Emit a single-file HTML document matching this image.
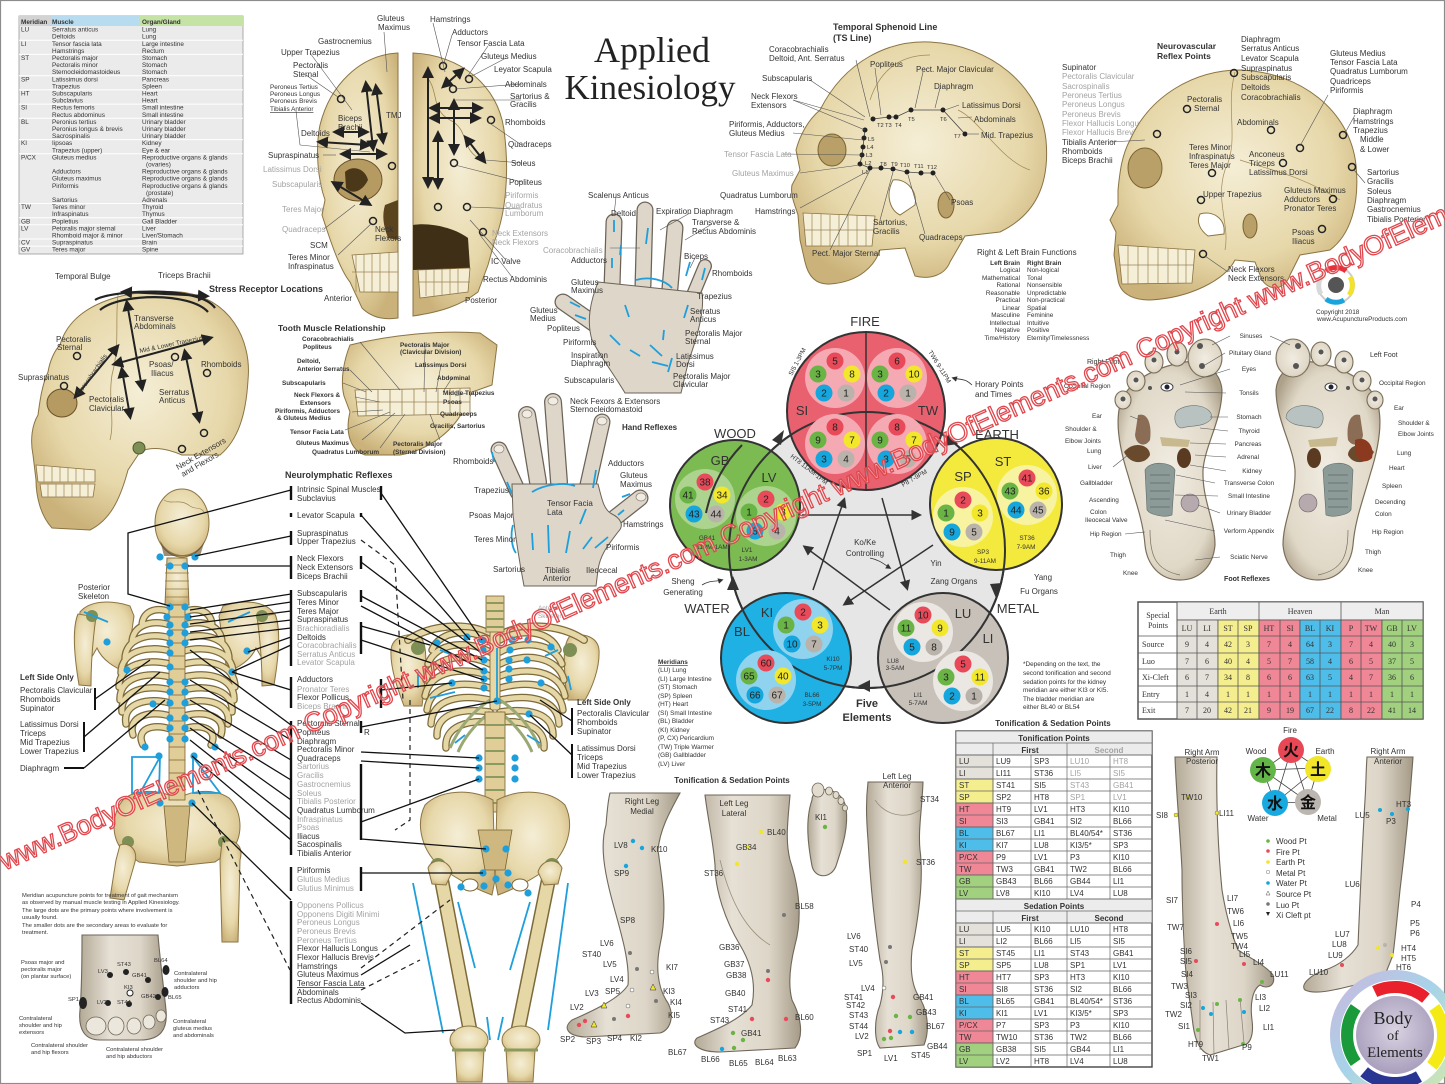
<!DOCTYPE html>
<html><head><meta charset="utf-8"><style>
html,body{margin:0;padding:0;background:#fff;}
svg{display:block;font-family:"Liberation Sans","Noto Sans CJK SC",sans-serif;}
text{fill:#333;font-size:8px;}
.s{font-size:6.4px}
.xs{font-size:5.8px}
.b{font-weight:bold}
.g{fill:#a3a3a3}
.sf{font-family:"Liberation Serif",serif}
.bone{fill:url(#bone);stroke:#8b7443;stroke-width:1}
.skin{fill:url(#skin);stroke:#6f6759;stroke-width:1.1}
.ld{stroke:#555;stroke-width:0.6;fill:none}
.bl{stroke:#111;stroke-width:1.3;fill:none}
.om{fill:none;stroke:#222;stroke-width:1.5}
.ar{stroke:#222;stroke-width:2;fill:none;marker-end:url(#ah);marker-start:url(#ahs)}
.bu{stroke:#1e9fdc;stroke-width:1.8;fill:none}
.c{text-anchor:middle}
.e{text-anchor:end}
.n{font-size:10px;text-anchor:middle;fill:#222}
.el{font-size:13px;fill:#333}
</style></head><body>
<svg width="1445" height="1084" viewBox="0 0 1445 1084" xmlns="http://www.w3.org/2000/svg">
<defs>
<radialGradient id="bone" cx="50%" cy="42%" r="62%"><stop offset="0" stop-color="#f5eed6"/><stop offset="0.65" stop-color="#e7d8aa"/><stop offset="1" stop-color="#cbb27a"/></radialGradient>
<linearGradient id="skin" x1="0" x2="1" y1="0" y2="0"><stop offset="0" stop-color="#b3a996"/><stop offset="0.35" stop-color="#e6e0d5"/><stop offset="0.7" stop-color="#ddd6c8"/><stop offset="1" stop-color="#a59a87"/></linearGradient>
<radialGradient id="foot" cx="50%" cy="50%" r="60%"><stop offset="0" stop-color="#f1ece2"/><stop offset="0.75" stop-color="#e0d8c7"/><stop offset="1" stop-color="#ada18a"/></radialGradient>
<linearGradient id="logo" x1="0" y1="0" x2="1" y2="1"><stop offset="0" stop-color="#cdb6dc"/><stop offset="0.45" stop-color="#a7d3ea"/><stop offset="1" stop-color="#d6eaa6"/></linearGradient>
<radialGradient id="logoc" cx="50%" cy="45%" r="55%"><stop offset="0" stop-color="#d9d3e2"/><stop offset="1" stop-color="#a99fbd"/></radialGradient>
<marker id="ah" markerWidth="6" markerHeight="6" refX="4" refY="3" orient="auto"><path d="M0,0 L6,3 L0,6 Z" fill="#222"/></marker>
<marker id="ahs" markerWidth="6" markerHeight="6" refX="2" refY="3" orient="auto"><path d="M6,0 L0,3 L6,6 Z" fill="#222"/></marker>
<marker id="ae" markerWidth="7" markerHeight="7" refX="5" refY="3.5" orient="auto"><path d="M0,0 L7,3.5 L0,7 Z" fill="#333"/></marker>
<g id="ribsP">
<path d="M170,612 C155,606 142,612 142,626 M170,625 C152,619 132,625 132,643 M170,638 C150,632 125,638 125,659 M170,651 C148,645 121,651 121,673 M170,664 C147,658 119,664 119,687 M170,677 C147,671 119,677 120,700 M170,690 C147,684 120,690 122,712 M170,703 C148,697 122,703 126,724 M170,716 C150,710 127,716 133,735 M170,729 C153,723 135,729 143,745"/>
</g>
<g id="ribsA">
<path d="M490,640 C470,628 440,630 432,650 M490,652 C468,640 436,642 428,664 M490,664 C466,652 432,656 426,680 M490,676 C464,666 430,670 425,696 M490,688 C462,680 430,684 427,710 M490,700 C462,694 432,698 431,724 M490,712 C464,708 436,712 437,736 M490,722 C468,720 444,726 446,748"/>
</g>
</defs>
<rect x="0.5" y="0.5" width="1444" height="1083" fill="#fff" stroke="#8c8c8c" stroke-width="1.2"/>

<!-- ========== TOP-LEFT TABLE ========== -->
<rect x="19" y="16" width="224" height="238" fill="#ebebeb" stroke="#9a9a9a" stroke-width="0.8"/>
<rect x="19" y="16" width="32" height="10" fill="#d3d3d3"/>
<rect x="51" y="16" width="89" height="10" fill="#b7dcef"/>
<rect x="140" y="16" width="103" height="10" fill="#c6e3a6"/>
<g stroke="#fff" stroke-width="1">
<line x1="19" x2="243" y1="40.2" y2="40.2"/><line x1="19" x2="243" y1="54.4" y2="54.4"/><line x1="19" x2="243" y1="75.7" y2="75.7"/><line x1="19" x2="243" y1="89.9" y2="89.9"/><line x1="19" x2="243" y1="104.1" y2="104.1"/><line x1="19" x2="243" y1="118.3" y2="118.3"/><line x1="19" x2="243" y1="139.6" y2="139.6"/><line x1="19" x2="243" y1="153.8" y2="153.8"/><line x1="19" x2="243" y1="203.5" y2="203.5"/><line x1="19" x2="243" y1="217.7" y2="217.7"/><line x1="19" x2="243" y1="224.8" y2="224.8"/><line x1="19" x2="243" y1="239" y2="239"/><line x1="19" x2="243" y1="246.1" y2="246.1"/>
</g>
<g class="s" style="font-size:6.4px">
<text x="21" y="24" class="b s">Meridian</text><text x="52" y="24" class="b s">Muscle</text><text x="142" y="24" class="b s">Organ/Gland</text>
<text x="21" y="31.6" class="s">LU</text><text x="52" y="31.6" class="s">Serratus anticus</text><text x="142" y="31.6" class="s">Lung</text>
<text x="52" y="38.7" class="s">Deltoids</text><text x="142" y="38.7" class="s">Lung</text>
<text x="21" y="45.8" class="s">LI</text><text x="52" y="45.8" class="s">Tensor fascia lata</text><text x="142" y="45.8" class="s">Large intestine</text>
<text x="52" y="52.9" class="s">Hamstrings</text><text x="142" y="52.9" class="s">Rectum</text>
<text x="21" y="60" class="s">ST</text><text x="52" y="60" class="s">Pectoralis major</text><text x="142" y="60" class="s">Stomach</text>
<text x="52" y="67.1" class="s">Pectoralis minor</text><text x="142" y="67.1" class="s">Stomach</text>
<text x="52" y="74.2" class="s">Sternocleidomastoideus</text><text x="142" y="74.2" class="s">Stomach</text>
<text x="21" y="81.3" class="s">SP</text><text x="52" y="81.3" class="s">Latissimus dorsi</text><text x="142" y="81.3" class="s">Pancreas</text>
<text x="52" y="88.4" class="s">Trapezius</text><text x="142" y="88.4" class="s">Spleen</text>
<text x="21" y="95.5" class="s">HT</text><text x="52" y="95.5" class="s">Subscapularis</text><text x="142" y="95.5" class="s">Heart</text>
<text x="52" y="102.6" class="s">Subclavius</text><text x="142" y="102.6" class="s">Heart</text>
<text x="21" y="109.7" class="s">SI</text><text x="52" y="109.7" class="s">Rectus femoris</text><text x="142" y="109.7" class="s">Small intestine</text>
<text x="52" y="116.8" class="s">Rectus abdominus</text><text x="142" y="116.8" class="s">Small intestine</text>
<text x="21" y="123.9" class="s">BL</text><text x="52" y="123.9" class="s">Peronius tertius</text><text x="142" y="123.9" class="s">Urinary bladder</text>
<text x="52" y="131" class="s">Peronius longus &amp; brevis</text><text x="142" y="131" class="s">Urinary bladder</text>
<text x="52" y="138.1" class="s">Sacrospinalis</text><text x="142" y="138.1" class="s">Urinary bladder</text>
<text x="21" y="145.2" class="s">KI</text><text x="52" y="145.2" class="s">Iipsoas</text><text x="142" y="145.2" class="s">Kidney</text>
<text x="52" y="152.3" class="s">Trapezius (upper)</text><text x="142" y="152.3" class="s">Eye &amp; ear</text>
<text x="21" y="159.4" class="s">P/CX</text><text x="52" y="159.4" class="s">Gluteus medius</text><text x="142" y="159.4" class="s">Reproductive organs &amp; glands</text>
<text x="146" y="166.5" class="s">(ovaries)</text>
<text x="52" y="173.6" class="s">Adductors</text><text x="142" y="173.6" class="s">Reproductive organs &amp; glands</text>
<text x="52" y="180.7" class="s">Gluteus maximus</text><text x="142" y="180.7" class="s">Reproductive organs &amp; glands</text>
<text x="52" y="187.8" class="s">Piriformis</text><text x="142" y="187.8" class="s">Reproductive organs &amp; glands</text>
<text x="146" y="194.9" class="s">(prostate)</text>
<text x="52" y="202" class="s">Sartorius</text><text x="142" y="202" class="s">Adrenals</text>
<text x="21" y="209.1" class="s">TW</text><text x="52" y="209.1" class="s">Teres minor</text><text x="142" y="209.1" class="s">Thyroid</text>
<text x="52" y="216.2" class="s">Infraspinatus</text><text x="142" y="216.2" class="s">Thymus</text>
<text x="21" y="223.3" class="s">GB</text><text x="52" y="223.3" class="s">Popletius</text><text x="142" y="223.3" class="s">Gall Bladder</text>
<text x="21" y="230.4" class="s">LV</text><text x="52" y="230.4" class="s">Petoralis major sternal</text><text x="142" y="230.4" class="s">Liver</text>
<text x="52" y="237.5" class="s">Rhomboid major &amp; minor</text><text x="142" y="237.5" class="s">Liver/Stomach</text>
<text x="21" y="244.6" class="s">CV</text><text x="52" y="244.6" class="s">Supraspinatus</text><text x="142" y="244.6" class="s">Brain</text>
<text x="21" y="251.7" class="s">GV</text><text x="52" y="251.7" class="s">Teres major</text><text x="142" y="251.7" class="s">Spine</text>
</g>

<!-- ========== ANTERIOR / POSTERIOR SKULL ========== -->
<path class="bone" d="M398,53 C360,55 330,85 320,125 C315,150 318,180 325,200 L322,215 C330,240 340,270 350,282 L362,308 C372,318 385,320 398,318 Z"/>
<path class="bone" d="M413,53 C460,55 498,85 504,130 C510,175 505,215 495,240 L488,265 L478,292 C460,306 440,312 413,316 Z"/>
<ellipse cx="358" cy="180" rx="24" ry="21" fill="#b59a62" stroke="#6b5226"/>
<path d="M345,172 C352,165 365,168 368,180 C362,192 352,195 346,188 Z" fill="#4a3818"/>
<path d="M385,205 L398,200 L398,240 L388,238 C383,225 382,215 385,205 Z" fill="#5a4420"/>
<path d="M352,255 L398,252 L398,292 L360,292 Z" fill="#f6efd8" stroke="#8b7443" stroke-width="0.8"/>
<path d="M356,255 v37 M364,254 v38 M372,253 v39 M380,253 v39 M389,252 v40 M352,272 h46" stroke="#9a8452" stroke-width="0.7"/>
<path d="M413,225 C430,222 455,228 468,238 L470,268 L413,270 Z" fill="#3e2f16"/>
<path d="M418,270 L470,268 L468,292 L420,298 Z" fill="#f4ecd3" stroke="#8b7443" stroke-width="0.8"/>
<path d="M426,270 v26 M434,269 v27 M442,269 v26 M450,269 v25 M458,269 v24 M418,282 h52" stroke="#9a8452" stroke-width="0.7"/>
<path d="M425,75 C440,90 430,110 450,120 C470,130 460,150 482,160" stroke="#9d8650" stroke-width="0.8" fill="none"/>
<g class="ar">
<line x1="366" y1="84" x2="373" y2="148"/><line x1="376" y1="87" x2="383" y2="141"/><line x1="336" y1="132" x2="366" y2="132"/><line x1="320" y1="142" x2="368" y2="145"/><line x1="343" y1="154" x2="384" y2="154"/><line x1="334" y1="183" x2="369" y2="204"/>
<line x1="432" y1="108" x2="480" y2="108"/><line x1="432" y1="118" x2="478" y2="118"/><line x1="428" y1="70" x2="428" y2="185"/><line x1="454" y1="102" x2="454" y2="152"/><line x1="438" y1="134" x2="438" y2="186"/><line x1="444" y1="86" x2="462" y2="70"/><line x1="466" y1="138" x2="484" y2="161"/>
</g>
<g class="om"><circle cx="341" cy="99" r="3.5"/><circle cx="392" cy="166" r="3.5"/><circle cx="373" cy="221" r="3.5"/><circle cx="443" cy="66" r="3.5"/><circle cx="469" cy="79" r="3.5"/><circle cx="453" cy="89" r="3.5"/><circle cx="491" cy="120" r="3.5"/><circle cx="454" cy="163" r="3.5"/><circle cx="438" cy="207" r="3.5"/><circle cx="467" cy="207" r="3.5"/><circle cx="483" cy="232" r="3.5"/></g>
<g class="ld"><line x1="384" y1="32" x2="387" y2="72"/><line x1="433" y1="23" x2="445" y2="72"/><line x1="452" y1="35" x2="444" y2="63"/><line x1="488" y1="46" x2="465" y2="80"/><line x1="506" y1="58" x2="470" y2="77"/><line x1="522" y1="84" x2="455" y2="89"/><line x1="521" y1="100" x2="455" y2="100"/><line x1="520" y1="144" x2="488" y2="122"/><line x1="522" y1="163" x2="485" y2="160"/><line x1="522" y1="182" x2="455" y2="165"/><line x1="521" y1="209" x2="470" y2="207"/><line x1="505" y1="259" x2="470" y2="220"/><line x1="512" y1="277" x2="480" y2="235"/><line x1="310" y1="53" x2="352" y2="110"/><line x1="306" y1="75" x2="338" y2="97"/><line x1="296" y1="111" x2="300" y2="145"/><line x1="300" y1="145" x2="370" y2="152"/><line x1="323" y1="155" x2="336" y2="155"/><line x1="324" y1="229" x2="355" y2="205"/><line x1="338" y1="255" x2="372" y2="223"/></g>
<text x="377" y="21">Gluteus</text><text x="378" y="30">Maximus</text>
<text x="430" y="22">Hamstrings</text><text x="452" y="35">Adductors</text><text x="457" y="46">Tensor Fascia Lata</text><text x="481" y="59">Gluteus Medius</text>
<text x="494" y="72">Leyator Scapula</text><text x="505" y="87">Abdominals</text><text x="510" y="99">Sartorius &amp;</text><text x="510" y="107">Gracilis</text>
<text x="505" y="125">Rhomboids</text><text x="508" y="147">Quadraceps</text><text x="511" y="166">Soleus</text><text x="509" y="185">Popliteus</text>
<text x="505" y="198" class="g">Piriformis</text><text x="505" y="208" class="g">Quadratus</text><text x="505" y="216" class="g">Lumborum</text>
<text x="492" y="236" class="g">Neck Extensors</text><text x="492" y="245" class="g">Neck Flexors</text><text x="491" y="264">IC Valve</text><text x="483" y="282">Rectus Abdominis</text>
<text x="465" y="303">Posterior</text><text x="324" y="301">Anterior</text>
<text x="318" y="44">Gastrocnemius</text><text x="281" y="55">Upper Trapezius</text><text x="293" y="68">Pectoralis</text><text x="293" y="77">Sternal</text>
<text x="270" y="89" class="s">Peroneus Tertius</text><text x="270" y="96" class="s">Peroneus Longus</text><text x="270" y="103" class="s">Peroneus Brevis</text><text x="270" y="111" class="s" text-decoration="underline">Tibialis Anterior</text>
<text x="338" y="121">Biceps</text><text x="338" y="130">Brachii</text><text x="386" y="118">TMJ</text><text x="301" y="136">Deltoids</text>
<text x="268" y="158">Supraspinatus</text><text x="263" y="172" class="g">Latissimus Dorsi</text><text x="272" y="187" class="g">Subscapularis</text>
<text x="282" y="212" class="g">Teres Major</text><text x="282" y="232" class="g">Quadraceps</text><text x="310" y="248">SCM</text>
<text x="288" y="260">Teres Minor</text><text x="288" y="269">Infraspinatus</text><text x="375" y="232">Neck</text><text x="375" y="241">Flexors</text>

<!-- Tooth muscle relationship -->
<path class="bone" d="M350,345 C390,335 440,330 480,333 L497,345 L492,385 L472,392 L466,405 C455,430 430,450 400,455 L365,455 C350,450 345,432 350,412 L344,396 C340,380 344,360 350,345 Z"/>
<path d="M355,390 L470,388 L470,414 L358,416 Z" fill="#f6efd8" stroke="#8b7443" stroke-width="0.8"/>
<path d="M366,389 v27 M378,389 v27 M390,389 v27 M402,389 v26 M414,389 v26 M426,389 v26 M438,389 v26 M450,388 v26 M460,388 v26 M356,402 h114" stroke="#9a8452" stroke-width="0.8"/>
<g class="ld"><line x1="360" y1="342" x2="400" y2="390"/><line x1="350" y1="370" x2="372" y2="392"/><line x1="343" y1="383" x2="366" y2="392"/><line x1="355" y1="397" x2="380" y2="402"/><line x1="352" y1="412" x2="383" y2="410"/><line x1="345" y1="430" x2="390" y2="412"/><line x1="362" y1="440" x2="395" y2="413"/><line x1="380" y1="448" x2="405" y2="414"/><line x1="425" y1="346" x2="424" y2="392"/><line x1="441" y1="365" x2="436" y2="392"/><line x1="452" y1="378" x2="443" y2="392"/><line x1="467" y1="393" x2="455" y2="396"/><line x1="440" y1="440" x2="430" y2="414"/></g>
<g class="b" style="font-size:6.4px">
<text x="278" y="331" class="b" style="font-size:8.5px">Tooth Muscle Relationship</text>
<text x="302" y="341" class="s b">Coracobrachialis</text><text x="303" y="349" class="s b">Popliteus</text>
<text x="297" y="363" class="s b">Deltoid,</text><text x="297" y="371" class="s b">Anterior Serratus</text>
<text x="282" y="385" class="s b">Subscapularis</text><text x="294" y="397" class="s b">Neck Flexors &amp;</text><text x="300" y="405" class="s b">Extensors</text>
<text x="275" y="413" class="s b">Piriformis, Adductors</text><text x="277" y="420" class="s b">&amp; Gluteus Medius</text>
<text x="290" y="434" class="s b">Tensor Facia Lata</text><text x="296" y="445" class="s b">Gluteus Maximus</text><text x="312" y="454" class="s b">Quadratus Lumborum</text>
<text x="400" y="347" class="s b">Pectoralis Major</text><text x="400" y="354" class="s b">(Clavicular Division)</text>
<text x="415" y="367" class="s b">Latissimus Dorsi</text><text x="437" y="380" class="s b">Abdominal</text><text x="443" y="395" class="s b">Middle Trapezius</text>
<text x="443" y="404" class="s b">Psoas</text><text x="440" y="416" class="s b">Quadraceps</text><text x="430" y="428" class="s b">Gracilis, Sartorius</text>
<text x="393" y="446" class="s b">Pectoralis Major</text><text x="393" y="454" class="s b">(Sternal Division)</text>
</g>

<!-- ========== STRESS RECEPTOR SKULL ========== -->
<path class="bone" d="M60,345 C72,302 130,288 180,292 C230,297 252,340 248,380 C246,415 238,440 220,455 L182,455 C166,448 150,446 140,452 L128,470 C120,500 110,520 90,530 L52,528 C40,515 36,495 36,480 L33,455 C30,440 32,425 38,415 C40,400 42,385 48,372 C50,360 55,350 60,345 Z"/>
<ellipse cx="62" cy="403" rx="15" ry="14" fill="#b59a62" stroke="#6b5226"/>
<path d="M36,465 L95,470 L95,482 L38,482 Z" fill="#f6efd8" stroke="#8b7443" stroke-width="0.8"/>
<path d="M44,466 v16 M52,467 v15 M60,467 v15 M68,468 v14 M76,468 v14 M84,469 v13" stroke="#9a8452" stroke-width="0.7"/>
<path d="M40,484 L95,484 L93,497 L42,497 Z" fill="#f6efd8" stroke="#8b7443" stroke-width="0.8"/>
<path d="M48,484 v13 M56,484 v13 M64,484 v13 M72,484 v13 M80,484 v13 M88,484 v13" stroke="#9a8452" stroke-width="0.7"/>
<circle cx="139" cy="448" r="6" fill="#7d8f55" stroke="#4c5a2a"/>
<path d="M118,295 C115,320 120,345 112,375 C108,400 115,420 110,440" stroke="#a18a55" stroke-width="0.8" fill="none"/>
<path d="M95,300 C110,290 200,285 215,308" stroke="#222" stroke-width="2.2" fill="none"/>
<path d="M100,310 C120,293 190,292 208,312" stroke="#222" stroke-width="2.2" fill="none"/>
<g class="ar"><line x1="127" y1="303" x2="142" y2="388"/><line x1="117" y1="347" x2="76" y2="396"/><line x1="115" y1="364" x2="210" y2="338"/><line x1="122" y1="370" x2="130" y2="416"/><line x1="185" y1="352" x2="199" y2="420"/><line x1="124" y1="292" x2="206" y2="296"/></g>
<g class="om"><circle cx="77" cy="356" r="3.5"/><circle cx="64" cy="386" r="3.5"/><circle cx="175" cy="357" r="3.5"/><circle cx="207" cy="373" r="3.5"/><circle cx="204" cy="433" r="3.5"/><circle cx="182" cy="449" r="3.5"/></g>
<text x="55" y="279">Temporal Bulge</text><text x="158" y="278">Triceps Brachii</text>
<text x="209" y="292" class="b" style="font-size:9px">Stress Receptor Locations</text>
<text x="134" y="321">Transverse</text><text x="134" y="329">Abdominals</text>
<text x="56" y="342">Pectoralis</text><text x="57" y="350">Sternal</text>
<text x="140" y="353" transform="rotate(-12 140 353)" class="s">Mid &amp; Lower Trapezius</text>
<text x="149" y="367">Psoas/</text><text x="151" y="376">Iliacus</text><text x="201" y="367">Rhomboids</text>
<text x="18" y="380">Supraspinatus</text><text x="80" y="395" class="s" transform="rotate(-55 80 395)">Coracobrachialis</text>
<text x="89" y="402">Pectoralis</text><text x="89" y="411">Clavicular</text><text x="159" y="395">Serratus</text><text x="159" y="403">Anticus</text>
<text x="178" y="470" transform="rotate(-30 178 470)">Neck Extensors</text><text x="183" y="477" transform="rotate(-30 183 477)">and Flexors</text>

<!-- ========== TITLE ========== -->
<text x="652" y="62" class="sf c" style="font-size:36px;fill:#222">Applied</text>
<text x="650" y="99" class="sf c" style="font-size:35px;fill:#222">Kinesiology</text>

<!-- ========== PALM HAND ========== -->
<g>
<g stroke-linecap="round">
<line x1="612" y1="287" x2="614" y2="222" stroke="#6b6357" stroke-width="17"/><line x1="643" y1="285" x2="645" y2="210" stroke="#6b6357" stroke-width="17"/><line x1="670" y1="288" x2="675" y2="228" stroke="#6b6357" stroke-width="17"/><line x1="690" y1="302" x2="705" y2="266" stroke="#6b6357" stroke-width="14"/><line x1="606" y1="332" x2="563" y2="302" stroke="#6b6357" stroke-width="17"/>
<line x1="612" y1="287" x2="614" y2="222" stroke="#ddd6c9" stroke-width="14.5"/><line x1="643" y1="285" x2="645" y2="210" stroke="#ddd6c9" stroke-width="14.5"/><line x1="670" y1="288" x2="675" y2="228" stroke="#ddd6c9" stroke-width="14.5"/><line x1="690" y1="302" x2="705" y2="266" stroke="#ddd6c9" stroke-width="11.5"/><line x1="606" y1="332" x2="563" y2="302" stroke="#ddd6c9" stroke-width="14.5"/>
</g>
<path d="M598,282 L702,293 C705,312 696,340 689,360 C685,375 683,385 681,393 L625,393 C615,376 600,356 592,340 C586,320 591,300 598,282 Z" fill="#ddd6c9" stroke="#6b6357"/>
<path d="M601,289 L700,298" stroke="#ddd6c9" stroke-width="6"/>
<g class="bu"><line x1="614" y1="220" x2="614" y2="232"/><line x1="621" y1="245" x2="620" y2="255"/><line x1="648" y1="228" x2="646" y2="244"/><line x1="612" y1="258" x2="612" y2="268"/><line x1="690" y1="262" x2="686" y2="276"/><line x1="705" y1="268" x2="702" y2="280"/><path d="M636,280 C650,276 665,280 672,288"/><line x1="570" y1="302" x2="580" y2="307"/><line x1="575" y1="315" x2="586" y2="319"/><line x1="625" y1="305" x2="629" y2="317"/><line x1="610" y1="335" x2="620" y2="345"/><line x1="630" y1="350" x2="640" y2="356"/><line x1="650" y1="345" x2="662" y2="356"/><line x1="688" y1="305" x2="684" y2="318"/><line x1="664" y1="330" x2="663" y2="340"/><line x1="672" y1="358" x2="668" y2="372"/><line x1="652" y1="362" x2="668" y2="366"/></g>
</g>
<g class="ld"><line x1="616" y1="197" x2="614" y2="215"/><line x1="690" y1="213" x2="660" y2="230"/><line x1="712" y1="224" x2="685" y2="240"/><line x1="610" y1="248" x2="640" y2="248"/><line x1="695" y1="258" x2="690" y2="268"/></g>
<text x="588" y="198">Scalenus Anticus</text><text x="611" y="216">Deltoid</text><text x="656" y="214">Expiration Diaphragm</text>
<text x="692" y="225">Transverse &amp;</text><text x="692" y="234">Rectus Abdominis</text>
<text x="543" y="253" class="g">Coracobrachialis</text><text x="571" y="263">Adductors</text><text x="684" y="259">Biceps</text><text x="712" y="276">Rhomboids</text>
<text x="571" y="285">Gluteus</text><text x="571" y="293">Maximus</text><text x="697" y="299">Trapezius</text>
<text x="530" y="313">Gluteus</text><text x="530" y="321">Medius</text><text x="690" y="314">Serratus</text><text x="690" y="322">Anticus</text>
<text x="547" y="331">Popliteus</text><text x="685" y="336">Pectoralis Major</text><text x="685" y="344">Sternal</text>
<text x="563" y="345">Piriformis</text><text x="571" y="358">Inspiration</text><text x="571" y="366">Diaphragm</text>
<text x="676" y="359">Latissimus</text><text x="676" y="367">Dorsi</text><text x="564" y="383">Subscapularis</text>
<text x="673" y="379">Pectoralis Major</text><text x="673" y="387">Clavicular</text>

<!-- ========== BACK OF HAND ========== -->
<g stroke-linecap="round">
<line x1="518" y1="492" x2="499" y2="450" stroke="#6b6357" stroke-width="17"/><line x1="538" y1="482" x2="527" y2="415" stroke="#6b6357" stroke-width="18"/><line x1="559" y1="482" x2="553" y2="402" stroke="#6b6357" stroke-width="18"/><line x1="587" y1="489" x2="602" y2="422" stroke="#6b6357" stroke-width="17"/><line x1="612" y1="520" x2="640" y2="498" stroke="#6b6357" stroke-width="17"/>
<line x1="518" y1="492" x2="499" y2="450" stroke="#ddd6c9" stroke-width="14.5"/><line x1="538" y1="482" x2="527" y2="415" stroke="#ddd6c9" stroke-width="15.5"/><line x1="559" y1="482" x2="553" y2="402" stroke="#ddd6c9" stroke-width="15.5"/><line x1="587" y1="489" x2="602" y2="422" stroke="#ddd6c9" stroke-width="14.5"/><line x1="612" y1="520" x2="640" y2="498" stroke="#ddd6c9" stroke-width="14.5"/>
</g>
<path d="M512,484 L598,484 C602,500 604,510 612,514 C620,518 625,525 618,532 C608,545 600,555 598,570 L596,586 L524,586 C520,565 516,540 513,515 Z" fill="#ddd6c9" stroke="#6b6357"/>
<path d="M514,488 L597,488" stroke="#ddd6c9" stroke-width="6"/>
<g fill="#f0ece4" stroke="#8a8173" stroke-width="0.7"><ellipse cx="499" cy="449" rx="5" ry="4"/><ellipse cx="527" cy="414" rx="5" ry="4"/><ellipse cx="553" cy="401" rx="5" ry="4"/><ellipse cx="602" cy="421" rx="5" ry="4"/><ellipse cx="641" cy="497" rx="5" ry="4"/></g>
<g class="bu"><path d="M532,492 C545,484 565,482 575,486"/><line x1="492" y1="452" x2="494" y2="462"/><line x1="507" y1="482" x2="512" y2="494"/><line x1="596" y1="470" x2="593" y2="488"/><line x1="622" y1="497" x2="630" y2="494"/><line x1="618" y1="515" x2="624" y2="510"/><line x1="532" y1="533" x2="533" y2="550"/><line x1="548" y1="525" x2="549" y2="553"/><line x1="570" y1="531" x2="566" y2="553"/><line x1="586" y1="509" x2="580" y2="524"/><line x1="592" y1="537" x2="583" y2="549"/><line x1="608" y1="537" x2="595" y2="548"/><path d="M513,525 C510,535 512,548 516,553"/></g>
<text x="570" y="404">Neck Fexors &amp; Extensors</text><text x="570" y="412">Sternocleidomastoid</text>
<text x="622" y="430" class="b">Hand Reflexes</text><text x="453" y="464">Rhomboids</text><text x="608" y="466">Adductors</text>
<text x="620" y="478">Gluteus</text><text x="620" y="487">Maximus</text><text x="474" y="493">Trapezius</text>
<text x="547" y="506">Tensor Facia</text><text x="547" y="515">Lata</text><text x="623" y="527">Hamstrings</text>
<text x="469" y="518">Psoas Major</text><text x="474" y="542">Teres Minor</text><text x="606" y="550">Piriformis</text>
<text x="493" y="572">Sartorius</text><text x="545" y="573">Tibialis</text><text x="543" y="581">Anterior</text><text x="586" y="573">Ileocecal</text>

<!-- ========== TS LINE SKULL ========== -->
<path class="bone" d="M820,110 C845,60 890,40 930,42 C990,45 1040,85 1046,140 C1050,185 1035,215 1000,232 L965,236 L950,262 C945,275 930,280 915,276 L905,248 L880,250 C875,265 860,282 830,284 C815,285 808,275 805,262 L800,240 L798,215 C795,205 790,195 792,185 L800,170 L796,150 C800,135 808,120 820,110 Z"/>
<ellipse cx="832" cy="150" rx="14" ry="16" fill="#b9a068" stroke="#7a6232"/>
<path d="M893,180 C905,178 918,190 915,205 L900,215 C890,210 885,195 893,180 Z" fill="#fff" stroke="#8b7443"/>
<path d="M803,213 L875,216 L872,246 L806,246 Z" fill="#f6efd8" stroke="#8b7443" stroke-width="0.8"/>
<path d="M812,214 v32 M821,214 v32 M830,215 v31 M839,215 v31 M848,215 v31 M857,215 v31 M866,216 v30 M804,230 h70" stroke="#9a8452" stroke-width="0.7"/>
<ellipse cx="946" cy="205" rx="8" ry="13" fill="#b9a068" stroke="#7a6232"/>
<path d="M870,100 C880,70 900,55 930,55 M958,110 C980,120 1000,160 1030,170" stroke="#a18a55" stroke-width="0.7" fill="none"/>
<path d="M873,119 L889,117 L896,117 L911,110 L943,110 L965,134 M865,130 L864,138 L863,147 L862,155 L860,164 L870,168 L881,168 L893,169 L907,172 L921,173 L933,173" stroke="#444" stroke-width="0.8" fill="none"/>
<g fill="#222"><circle cx="873" cy="119" r="2.5"/><circle cx="889" cy="117" r="2.5"/><circle cx="896" cy="117" r="2.5"/><circle cx="911" cy="110" r="2.5"/><circle cx="943" cy="110" r="2.5"/><circle cx="965" cy="134" r="2.5"/><circle cx="865" cy="130" r="2.5"/><circle cx="864" cy="138" r="2.5"/><circle cx="863" cy="147" r="2.5"/><circle cx="862" cy="155" r="2.5"/><circle cx="860" cy="164" r="2.5"/><circle cx="870" cy="168" r="2.5"/><circle cx="881" cy="168" r="2.5"/><circle cx="893" cy="169" r="2.5"/><circle cx="907" cy="172" r="2.5"/><circle cx="921" cy="173" r="2.5"/><circle cx="933" cy="173" r="2.5"/></g>
<g class="xs"><text x="877" y="127" class="xs">T2</text><text x="885" y="127" class="xs">T3</text><text x="895" y="127" class="xs">T4</text><text x="908" y="121" class="xs">T5</text><text x="940" y="121" class="xs">T6</text><text x="954" y="138" class="xs">T7</text><text x="868" y="141" class="xs">L5</text><text x="867" y="149" class="xs">L4</text><text x="866" y="157" class="xs">L3</text><text x="865" y="165" class="xs">L2</text><text x="862" y="174" class="xs">L1</text><text x="880" y="166" class="xs">T8</text><text x="891" y="166" class="xs">T9</text><text x="900" y="167" class="xs">T10</text><text x="914" y="168" class="xs">T11</text><text x="927" y="169" class="xs">T12</text></g>
<g class="ld"><line x1="856" y1="60" x2="870" y2="117"/><line x1="810" y1="80" x2="865" y2="117"/><line x1="793" y1="100" x2="864" y2="120"/><line x1="793" y1="100" x2="865" y2="130"/><line x1="793" y1="133" x2="863" y2="140"/><line x1="783" y1="154" x2="862" y2="155"/><line x1="800" y1="173" x2="860" y2="165"/><line x1="800" y1="208" x2="870" y2="170"/><line x1="875" y1="68" x2="881" y2="115"/><line x1="923" y1="72" x2="915" y2="108"/><line x1="940" y1="88" x2="935" y2="108"/><line x1="959" y1="105" x2="945" y2="110"/><line x1="972" y1="117" x2="958" y2="118"/><line x1="979" y1="134" x2="968" y2="134"/><line x1="950" y1="200" x2="935" y2="175"/><line x1="880" y1="220" x2="893" y2="172"/><line x1="925" y1="234" x2="908" y2="175"/><line x1="830" y1="250" x2="870" y2="170"/></g>
<text x="833" y="30" class="b" style="font-size:9px">Temporal Sphenoid Line</text><text x="833" y="41" class="b" style="font-size:9px">(TS Line)</text>
<text x="769" y="52">Coracobrachialis</text><text x="769" y="61">Deltoid, Ant. Serratus</text><text x="762" y="81">Subscapularis</text>
<text x="751" y="99">Neck Flexors</text><text x="751" y="108">Extensors</text><text x="729" y="127">Piriformis, Adductors,</text><text x="729" y="136">Gluteus Medius</text>
<text x="724" y="157" class="g">Tensor Fascia Lata</text><text x="732" y="176" class="g">Gluteus Maximus</text><text x="720" y="198">Quadratus Lumborum</text><text x="755" y="214">Hamstrings</text>
<text x="870" y="67">Popliteus</text><text x="916" y="72">Pect. Major Clavicular</text><text x="934" y="89">Diaphragm</text><text x="962" y="108">Latissimus Dorsi</text>
<text x="974" y="122">Abdominals</text><text x="981" y="138">Mid. Trapezius</text><text x="951" y="205">Psoas</text><text x="873" y="225">Sartorius,</text><text x="873" y="234">Gracilis</text>
<text x="919" y="240">Quadraceps</text><text x="812" y="256">Pect. Major Sternal</text>

<!-- Supinator list -->
<text x="1062" y="70">Supinator</text><text x="1062" y="79" class="g">Pectoralis Clavicular</text><text x="1062" y="89" class="g">Sacrospinalis</text><text x="1062" y="98" class="g">Peroneus Tertius</text><text x="1062" y="107" class="g">Peroneus Longus</text><text x="1062" y="117" class="g">Peroneus Brevis</text><text x="1062" y="126" class="g">Flexor Hallucis Longus</text><text x="1062" y="135" class="g">Flexor Hallucis Brevis</text><text x="1062" y="145">Tibialis Anterior</text><text x="1062" y="154">Rhomboids</text><text x="1062" y="163">Biceps Brachii</text>

<!-- Brain functions -->
<text x="977" y="255">Right &amp; Left Brain Functions</text>
<g style="font-size:6.3px">
<text x="1020" y="265" class="e b s">Left Brain</text><text x="1027" y="265" class="b s">Right Brain</text>
<text x="1020" y="272" class="e s">Logical</text><text x="1027" y="272" class="s">Non-logical</text>
<text x="1020" y="280" class="e s">Mathematical</text><text x="1027" y="280" class="s">Tonal</text>
<text x="1020" y="287" class="e s">Rational</text><text x="1027" y="287" class="s">Nonsensible</text>
<text x="1020" y="295" class="e s">Reasonable</text><text x="1027" y="295" class="s">Unpredictable</text>
<text x="1020" y="302" class="e s">Practical</text><text x="1027" y="302" class="s">Non-practical</text>
<text x="1020" y="310" class="e s">Linear</text><text x="1027" y="310" class="s">Spatial</text>
<text x="1020" y="317" class="e s">Masculine</text><text x="1027" y="317" class="s">Feminine</text>
<text x="1020" y="325" class="e s">Intellectual</text><text x="1027" y="325" class="s">Intuitive</text>
<text x="1020" y="332" class="e s">Negative</text><text x="1027" y="332" class="s">Positive</text>
<text x="1020" y="340" class="e s">Time/History</text><text x="1027" y="340" class="s">Eternity/Timelessness</text>
</g>

<!-- ========== NEUROVASCULAR SKULL ========== -->
<path class="bone" d="M1130,140 C1150,95 1195,70 1240,70 C1300,72 1350,110 1356,165 C1360,205 1350,235 1330,250 L1300,255 L1290,275 C1285,290 1270,292 1262,280 L1255,262 L1235,260 C1225,280 1190,298 1150,300 C1130,300 1120,292 1118,280 L1114,255 L1116,232 L1110,220 L1118,205 L1118,190 C1120,170 1122,155 1130,140 Z"/>
<ellipse cx="1145" cy="168" rx="17" ry="20" fill="#b9a068" stroke="#7a6232"/>
<path d="M1200,214 C1212,210 1226,218 1224,234 L1208,236 C1200,230 1196,222 1200,214 Z" fill="#fff" stroke="#8b7443"/>
<ellipse cx="1250" cy="226" rx="7" ry="12" fill="#b9a068" stroke="#7a6232"/>
<path d="M1118,245 L1195,250 L1192,283 L1122,284 Z" fill="#f6efd8" stroke="#8b7443" stroke-width="0.8"/>
<path d="M1128,246 v38 M1138,246 v38 M1148,247 v37 M1158,247 v37 M1168,248 v36 M1178,249 v35 M1186,249 v34 M1119,265 h75" stroke="#9a8452" stroke-width="0.7"/>
<path d="M1235,72 C1225,110 1240,140 1225,170 C1215,200 1230,225 1225,250 M1240,160 C1270,170 1300,175 1340,200" stroke="#a18a55" stroke-width="0.7" fill="none"/>
<g class="om"><circle cx="1187" cy="109" r="3.5"/><circle cx="1271" cy="130" r="3.5"/><circle cx="1157" cy="134" r="3.5"/><circle cx="1300" cy="148" r="3.5"/><circle cx="1283" cy="163" r="3.5"/><circle cx="1212" cy="173" r="3.5"/><circle cx="1201" cy="200" r="3.5"/><circle cx="1333" cy="199" r="3.5"/><circle cx="1322" cy="229" r="3.5"/><circle cx="1203" cy="254" r="3.5"/><circle cx="1343" cy="135" r="3.5"/><circle cx="1352" cy="167" r="3.5"/><circle cx="1234" cy="73" r="3.5"/></g>
<g class="ld"><line x1="1145" y1="140" x2="1110" y2="142"/><line x1="1300" y1="146" x2="1328" y2="95"/><line x1="1345" y1="133" x2="1355" y2="115"/><line x1="1354" y1="170" x2="1365" y2="183"/><line x1="1205" y1="256" x2="1228" y2="272"/></g>
<text x="1157" y="49" class="b" style="font-size:8.5px">Neurovascular</text><text x="1157" y="59" class="b" style="font-size:8.5px">Reflex Points</text>
<text x="1241" y="42">Diaphragm</text><text x="1241" y="51">Serratus Anticus</text><text x="1241" y="61">Levator Scapula</text><text x="1241" y="71">Supraspinatus</text><text x="1241" y="80">Subscapularis</text><text x="1241" y="90">Deltoids</text><text x="1241" y="100">Coracobrachialis</text>
<text x="1330" y="56">Gluteus Medius</text><text x="1330" y="65">Tensor Fascia Lata</text><text x="1330" y="74">Quadratus Lumborum</text><text x="1330" y="84">Quadriceps</text><text x="1330" y="93">Piriformis</text>
<text x="1187" y="102">Pectoralis</text><text x="1194" y="111">Sternal</text><text x="1237" y="125">Abdominals</text>
<text x="1353" y="114">Diaphragm</text><text x="1353" y="124">Hamstrings</text><text x="1353" y="133">Trapezius</text><text x="1360" y="142">Middle</text><text x="1360" y="152">&amp; Lower</text>
<text x="1189" y="150">Teres Minor</text><text x="1189" y="159">Infraspinatus</text><text x="1189" y="168">Teres Major</text>
<text x="1249" y="157">Anconeus</text><text x="1249" y="166">Triceps</text><text x="1249" y="175">Latissimus Dorsi</text>
<text x="1203" y="197">Upper Trapezius</text><text x="1284" y="193">Gluteus Maximus</text><text x="1284" y="202">Adductors</text><text x="1284" y="211">Pronator Teres</text>
<text x="1367" y="175">Sartorius</text><text x="1367" y="184">Gracilis</text><text x="1367" y="194">Soleus</text><text x="1367" y="203">Diaphragm</text><text x="1367" y="212">Gastrocnemius</text><text x="1367" y="222">Tibialis Posterior</text>
<text x="1292" y="235">Psoas</text><text x="1292" y="244">Iliacus</text><text x="1228" y="272">Neck Flexors</text><text x="1228" y="281">Neck Extensors</text>
<!-- small logo -->
<circle cx="1336" cy="285" r="18" fill="#fff" stroke="#ccc" stroke-width="2"/>
<path d="M1326,271 A16,16 0 0 1 1346,271" stroke="#e8303a" stroke-width="5" fill="none"/>
<path d="M1350,277 A16,16 0 0 1 1349,295" stroke="#f2e22a" stroke-width="5" fill="none"/>
<path d="M1344,300 A16,16 0 0 1 1326,299" stroke="#1ba3dc" stroke-width="5" fill="none"/>
<path d="M1321,294 A16,16 0 0 1 1322,276" stroke="#d8d8d8" stroke-width="5" fill="none"/>
<circle cx="1336" cy="285" r="8" fill="#555"/>
<text x="1316" y="314" class="s">Copyright 2018</text><text x="1317" y="321" class="s">www.AcupunctureProducts.com</text>

<!-- ========== FEET ========== -->
<g id="rfoot">
<path d="M1120,405 C1125,385 1150,368 1185,362 C1200,360 1220,368 1222,390 C1222,420 1205,445 1203,470 C1202,500 1215,520 1215,545 C1213,568 1198,580 1180,580 C1160,580 1147,565 1145,545 C1143,520 1135,500 1128,475 C1120,450 1115,425 1120,405 Z" fill="url(#foot)" stroke="#7a6e5a" stroke-width="1.2"/>
<g fill="url(#foot)" stroke="#7a6e5a" stroke-width="1.1"><ellipse cx="1205" cy="358" rx="17" ry="19"/><ellipse cx="1177" cy="354" rx="10" ry="12"/><ellipse cx="1154" cy="362" rx="9" ry="11"/><ellipse cx="1136" cy="381" rx="9" ry="10"/><ellipse cx="1123" cy="400" rx="8" ry="9"/></g>
<g fill="#555"><circle cx="1200" cy="346" r="3"/><circle cx="1202" cy="366" r="3"/><circle cx="1177" cy="352" r="2.5"/><circle cx="1154" cy="360" r="2.5"/><circle cx="1136" cy="380" r="2.5"/><circle cx="1123" cy="399" r="2.5"/><circle cx="1150" cy="388" r="2"/></g>
<ellipse cx="1167" cy="387" rx="6" ry="4" fill="#fff" stroke="#444"/><circle cx="1167" cy="387" r="2.5" fill="#223"/>
<path d="M1178,410 C1190,402 1212,405 1212,418 C1205,428 1190,425 1182,428 C1175,428 1172,415 1178,410 Z" fill="#b8c2c0" stroke="#6a7270" stroke-width="0.6"/>
<path d="M1160,437 L1190,440 L1188,447 L1162,446 Z" fill="#c9b98f"/>
<path d="M1138,415 C1148,412 1152,425 1150,440 C1145,448 1136,445 1135,435 Z" fill="#8b6d55"/>
<path d="M1124,452 C1134,440 1150,445 1150,455 C1145,465 1130,465 1124,452 Z" fill="#6a4a2c"/>
<ellipse cx="1184" cy="458" rx="7" ry="10" fill="#5a3a20"/>
<path d="M1145,470 C1150,460 1172,462 1175,470 L1172,515 C1165,518 1150,515 1147,510 Z" fill="#8c9b98" stroke="#5f6b68" stroke-width="0.6"/>
<path d="M1150,475 h20 M1150,483 h20 M1150,491 h20 M1150,499 h20 M1150,507 h20" stroke="#5f6b68" stroke-width="0.8"/>
<circle cx="1190" cy="503" r="9" fill="#b6aaaf" stroke="#6e6469" stroke-width="0.6"/>
<path d="M1150,530 C1150,555 1155,570 1180,575" stroke="#7a6e5a" stroke-width="0.7" fill="none"/>
</g>
<use href="#rfoot" transform="translate(2498,0) scale(-1,1)"/>
<path d="M1355,440 C1365,435 1375,445 1372,458 C1365,465 1355,460 1355,450 Z" fill="#8b3a1f"/>
<g class="ld"><line x1="1230" y1="336" x2="1212" y2="345"/><line x1="1270" y1="336" x2="1290" y2="345"/><line x1="1225" y1="353" x2="1205" y2="365"/><line x1="1230" y1="369" x2="1180" y2="385"/><line x1="1226" y1="393" x2="1185" y2="392"/><line x1="1228" y1="417" x2="1210" y2="417"/><line x1="1228" y1="431" x2="1200" y2="428"/><line x1="1226" y1="444" x2="1190" y2="443"/><line x1="1226" y1="457" x2="1195" y2="455"/><line x1="1226" y1="471" x2="1190" y2="465"/><line x1="1215" y1="483" x2="1176" y2="475"/><line x1="1218" y1="496" x2="1175" y2="495"/><line x1="1220" y1="513" x2="1198" y2="505"/><line x1="1215" y1="531" x2="1165" y2="520"/><line x1="1220" y1="557" x2="1195" y2="560"/><line x1="1130" y1="416" x2="1140" y2="420"/><line x1="1113" y1="467" x2="1128" y2="455"/><line x1="1125" y1="534" x2="1145" y2="532"/></g>
<g class="s">
<text x="1251" y="338" class="c s">Sinuses</text><text x="1250" y="355" class="c s">Pituitary Gland</text><text x="1249" y="371" class="c s">Eyes</text><text x="1249" y="395" class="c s">Tonsils</text>
<text x="1249" y="419" class="c s">Stomach</text><text x="1249" y="433" class="c s">Thyroid</text><text x="1248" y="446" class="c s">Pancreas</text><text x="1248" y="459" class="c s">Adrenal</text>
<text x="1252" y="473" class="c s">Kidney</text><text x="1249" y="485" class="c s">Transverse Colon</text><text x="1249" y="498" class="c s">Small Intestine</text>
<text x="1249" y="515" class="c s">Urinary Bladder</text><text x="1249" y="533" class="c s">Verform Appendix</text><text x="1249" y="559" class="c s">Sciatic Nerve</text>
<text x="1087" y="364" class="s" style="font-size:7px">Right Foot</text><text x="1064" y="388" class="s">Occipital Region</text><text x="1092" y="418" class="s">Ear</text>
<text x="1065" y="431" class="s">Shoulder &amp;</text><text x="1065" y="443" class="s">Elbow Joints</text><text x="1087" y="453" class="s">Lung</text><text x="1088" y="469" class="s">Liver</text>
<text x="1080" y="485" class="s">Gallbladder</text><text x="1089" y="502" class="s">Ascending</text><text x="1090" y="514" class="s">Colon</text><text x="1085" y="522" class="s">Ileocecal Valve</text>
<text x="1090" y="536" class="s">Hip Region</text><text x="1110" y="557" class="s">Thigh</text><text x="1123" y="575" class="s">Knee</text>
<text x="1370" y="357" class="s" style="font-size:7px">Left Foot</text><text x="1379" y="385" class="s">Occipital Region</text><text x="1394" y="410" class="s">Ear</text>
<text x="1398" y="425" class="s">Shoulder &amp;</text><text x="1398" y="436" class="s">Elbow Joints</text><text x="1397" y="455" class="s">Lung</text><text x="1389" y="470" class="s">Heart</text>
<text x="1382" y="488" class="s">Spleen</text><text x="1375" y="504" class="s">Decending</text><text x="1375" y="516" class="s">Colon</text><text x="1372" y="534" class="s">Hip Region</text>
<text x="1365" y="554" class="s">Thigh</text><text x="1358" y="572" class="s">Knee</text>
</g>
<text x="1247" y="581" class="c b" style="font-size:7px">Foot Reflexes</text>

<!-- ========== FIVE ELEMENTS ========== -->
<circle cx="867" cy="550" r="138" fill="#e6e6e6" stroke="#333" stroke-width="2"/>
<g stroke="#333" stroke-width="1.5" fill="none" marker-end="url(#ae)">
<line x1="882" y1="498" x2="907" y2="588"/><line x1="802" y1="515" x2="919" y2="515"/><line x1="933" y1="545" x2="845" y2="604"/><line x1="890" y1="610" x2="805" y2="547"/><line x1="813" y1="590" x2="844" y2="500"/>
</g>
<circle cx="866" cy="411" r="79" fill="#e9606f" stroke="#333" stroke-width="2"/>
<circle cx="735" cy="505" r="65" fill="#7cba52" stroke="#333" stroke-width="2"/>
<circle cx="996" cy="504" r="66" fill="#f4ea3e" stroke="#333" stroke-width="2"/>
<circle cx="786" cy="658" r="65" fill="#1fb0e4" stroke="#333" stroke-width="2"/>
<circle cx="943" cy="658" r="65" fill="#c8c1b9" stroke="#333" stroke-width="2"/>
<circle cx="867" cy="550" r="138" fill="none" stroke="#333" stroke-width="2"/>
<line x1="866" y1="332" x2="866" y2="490" stroke="#333" stroke-width="1.5"/>
<g fill="#333"><path d="M772,440 L784,430 L781,445 Z"/><path d="M948,434 L958,444 L944,446 Z"/><path d="M1002,583 L996,598 L990,584 Z"/><path d="M870,680 L858,686 L870,692 Z"/><path d="M727,590 L733,576 L739,590 Z"/></g>
<!-- sub circles -->
<g fill="#f5a9b3"><circle cx="835" cy="378" r="30"/><circle cx="897" cy="378" r="30"/><circle cx="835" cy="444" r="30"/><circle cx="897" cy="444" r="30"/></g>
<g fill="#acd48e"><circle cx="705" cy="499" r="30"/><circle cx="766" cy="516" r="30"/></g>
<g fill="#f8f3a0"><circle cx="963" cy="517" r="30"/><circle cx="1027" cy="495" r="30"/></g>
<g fill="#8fd3ef"><circle cx="803" cy="629" r="30"/><circle cx="766" cy="680" r="30"/></g>
<g fill="#ebe7e2"><circle cx="923" cy="632" r="30"/><circle cx="963" cy="681" r="30"/></g>
<path d="M706,513 A138,138 0 0 1 742,445" stroke="#333" stroke-width="2" fill="none"/>
<g fill="#e84a5a"><circle cx="835" cy="361" r="8.5"/><circle cx="897" cy="361" r="8.5"/><circle cx="835" cy="427" r="8.5"/><circle cx="897" cy="427" r="8.5"/><circle cx="705" cy="482" r="8.5"/><circle cx="766" cy="499" r="8.5"/><circle cx="963" cy="500" r="8.5"/><circle cx="1027" cy="478" r="8.5"/><circle cx="803" cy="612" r="8.5"/><circle cx="766" cy="663" r="8.5"/><circle cx="923" cy="615" r="8.5"/><circle cx="963" cy="664" r="8.5"/></g>
<g fill="#6ab446"><circle cx="818" cy="374" r="8.5"/><circle cx="880" cy="374" r="8.5"/><circle cx="818" cy="440" r="8.5"/><circle cx="880" cy="440" r="8.5"/><circle cx="688" cy="495" r="8.5"/><circle cx="749" cy="512" r="8.5"/><circle cx="946" cy="513" r="8.5"/><circle cx="1010" cy="491" r="8.5"/><circle cx="786" cy="625" r="8.5"/><circle cx="749" cy="676" r="8.5"/><circle cx="906" cy="628" r="8.5"/><circle cx="946" cy="677" r="8.5"/></g>
<g fill="#f3e72c"><circle cx="852" cy="374" r="8.5"/><circle cx="914" cy="374" r="8.5"/><circle cx="852" cy="440" r="8.5"/><circle cx="914" cy="440" r="8.5"/><circle cx="722" cy="495" r="8.5"/><circle cx="783" cy="512" r="8.5"/><circle cx="980" cy="513" r="8.5"/><circle cx="1044" cy="491" r="8.5"/><circle cx="820" cy="625" r="8.5"/><circle cx="783" cy="676" r="8.5"/><circle cx="940" cy="628" r="8.5"/><circle cx="980" cy="677" r="8.5"/></g>
<g fill="#14a6dd"><circle cx="824" cy="393" r="8.5"/><circle cx="886" cy="393" r="8.5"/><circle cx="824" cy="459" r="8.5"/><circle cx="886" cy="459" r="8.5"/><circle cx="694" cy="514" r="8.5"/><circle cx="755" cy="531" r="8.5"/><circle cx="952" cy="532" r="8.5"/><circle cx="1016" cy="510" r="8.5"/><circle cx="792" cy="644" r="8.5"/><circle cx="755" cy="695" r="8.5"/><circle cx="912" cy="647" r="8.5"/><circle cx="952" cy="696" r="8.5"/></g>
<g fill="#bab3ab"><circle cx="846" cy="393" r="8.5"/><circle cx="908" cy="393" r="8.5"/><circle cx="846" cy="459" r="8.5"/><circle cx="908" cy="459" r="8.5"/><circle cx="716" cy="514" r="8.5"/><circle cx="777" cy="531" r="8.5"/><circle cx="974" cy="532" r="8.5"/><circle cx="1038" cy="510" r="8.5"/><circle cx="814" cy="644" r="8.5"/><circle cx="777" cy="695" r="8.5"/><circle cx="934" cy="647" r="8.5"/><circle cx="974" cy="696" r="8.5"/></g>
<g>
<text x="835" y="364.5" class="n">5</text><text x="818" y="377.5" class="n">3</text><text x="852" y="377.5" class="n">8</text><text x="824" y="396.5" class="n">2</text><text x="846" y="396.5" class="n">1</text>
<text x="897" y="364.5" class="n">6</text><text x="880" y="377.5" class="n">3</text><text x="914" y="377.5" class="n">10</text><text x="886" y="396.5" class="n">2</text><text x="908" y="396.5" class="n">1</text>
<text x="835" y="430.5" class="n">8</text><text x="818" y="443.5" class="n">9</text><text x="852" y="443.5" class="n">7</text><text x="824" y="462.5" class="n">3</text><text x="846" y="462.5" class="n">4</text>
<text x="897" y="430.5" class="n">8</text><text x="880" y="443.5" class="n">9</text><text x="914" y="443.5" class="n">7</text><text x="886" y="462.5" class="n">3</text><text x="908" y="462.5" class="n">5</text>
<text x="705" y="485.5" class="n">38</text><text x="688" y="498.5" class="n">41</text><text x="722" y="498.5" class="n">34</text><text x="694" y="517.5" class="n">43</text><text x="716" y="517.5" class="n">44</text>
<text x="766" y="502.5" class="n">2</text><text x="749" y="515.5" class="n">1</text><text x="783" y="515.5" class="n">3</text><text x="755" y="534.5" class="n">8</text><text x="777" y="534.5" class="n">4</text>
<text x="963" y="503.5" class="n">2</text><text x="946" y="516.5" class="n">1</text><text x="980" y="516.5" class="n">3</text><text x="952" y="535.5" class="n">9</text><text x="974" y="535.5" class="n">5</text>
<text x="1027" y="481.5" class="n">41</text><text x="1010" y="494.5" class="n">43</text><text x="1044" y="494.5" class="n">36</text><text x="1016" y="513.5" class="n">44</text><text x="1038" y="513.5" class="n">45</text>
<text x="803" y="615.5" class="n">2</text><text x="786" y="628.5" class="n">1</text><text x="820" y="628.5" class="n">3</text><text x="792" y="647.5" class="n">10</text><text x="814" y="647.5" class="n">7</text>
<text x="766" y="666.5" class="n">60</text><text x="749" y="679.5" class="n">65</text><text x="783" y="679.5" class="n">40</text><text x="755" y="698.5" class="n">66</text><text x="777" y="698.5" class="n">67</text>
<text x="923" y="618.5" class="n">10</text><text x="906" y="631.5" class="n">11</text><text x="940" y="631.5" class="n">9</text><text x="912" y="650.5" class="n">5</text><text x="934" y="650.5" class="n">8</text>
<text x="963" y="667.5" class="n">5</text><text x="946" y="680.5" class="n">3</text><text x="980" y="680.5" class="n">11</text><text x="952" y="699.5" class="n">2</text><text x="974" y="699.5" class="n">1</text>
</g>
<text x="865" y="326" class="c el">FIRE</text><text x="735" y="438" class="c el">WOOD</text><text x="997" y="439" class="c el">EARTH</text><text x="707" y="613" class="c el">WATER</text><text x="1018" y="613" class="c el">METAL</text>
<text x="802" y="415" class="c el">SI</text><text x="928" y="415" class="c el">TW</text>
<text x="720" y="465" class="c el">GB</text><text x="769" y="482" class="c el">LV</text><text x="963" y="481" class="c el">SP</text><text x="1003" y="466" class="c el">ST</text>
<text x="767" y="617" class="c el">KI</text><text x="742" y="636" class="c el">BL</text><text x="963" y="618" class="c el">LU</text><text x="988" y="643" class="c el">LI</text>
<text x="792" y="376" class="s" transform="rotate(-62 792 376)">SI5 1-3PM</text><text x="928" y="352" class="s" transform="rotate(58 928 352)">TW6 9-11PM</text>
<text x="790" y="457" class="s" transform="rotate(38 790 457)">HT8 11AM-1PM</text><text x="903" y="487" class="s" transform="rotate(-30 903 487)">P8 7-9PM</text>
<text x="707" y="540" class="c s">GB41</text><text x="712" y="549" class="c s">11PM-1AM</text><text x="747" y="552" class="c s">LV1</text><text x="748" y="561" class="c s">1-3AM</text>
<text x="983" y="554" class="c s">SP3</text><text x="985" y="563" class="c s">9-11AM</text><text x="1027" y="540" class="c s">ST36</text><text x="1026" y="549" class="c s">7-9AM</text>
<text x="833" y="661" class="c s">KI10</text><text x="833" y="670" class="c s">5-7PM</text><text x="812" y="697" class="c s">BL66</text><text x="812" y="706" class="c s">3-5PM</text>
<text x="893" y="663" class="c s">LU8</text><text x="895" y="670" class="c s">3-5AM</text><text x="918" y="697" class="c s">LI1</text><text x="918" y="705" class="c s">5-7AM</text>
<text x="865" y="545" class="c">Ko/Ke</text><text x="865" y="556" class="c">Controlling</text><text x="936" y="566" class="c">Yin</text><text x="954" y="584" class="c">Zang Organs</text>
<text x="1043" y="580" class="c">Yang</text><text x="1039" y="594" class="c">Fu Organs</text><text x="683" y="584" class="c">Sheng</text><text x="683" y="595" class="c">Generating</text>
<text x="867" y="707" class="c b" style="font-size:11px">Five</text><text x="867" y="721" class="c b" style="font-size:11px">Elements</text>
<text x="975" y="387">Horary Points</text><text x="975" y="397">and Times</text>
<path d="M972,385 C965,378 960,380 953,378" stroke="#333" stroke-width="0.8" fill="none" marker-end="url(#ae)"/>
<path d="M702,585 C710,580 715,582 722,580" stroke="#333" stroke-width="0.8" fill="none" marker-end="url(#ae)"/>
<path d="M870,558 C880,560 885,565 890,568" stroke="#333" stroke-width="0.8" fill="none" marker-end="url(#ae)"/>

<!-- Meridians legend -->
<text x="658" y="664" class="b s" text-decoration="underline">Meridians</text>
<g class="s"><text x="658" y="672" class="s">(LU) Lung</text><text x="658" y="681" class="s">(LI) Large Intestine</text><text x="658" y="689" class="s">(ST) Stomach</text><text x="658" y="698" class="s">(SP) Spleen</text><text x="658" y="706" class="s">(HT) Heart</text><text x="658" y="715" class="s">(SI) Small Intestine</text><text x="658" y="723" class="s">(BL) Bladder</text><text x="658" y="732" class="s">(KI) Kidney</text><text x="658" y="740" class="s">(P, CX) Pericardium</text><text x="658" y="749" class="s">(TW) Triple Warmer</text><text x="658" y="757" class="s">(GB) Gallbladder</text><text x="658" y="766" class="s">(LV) Liver</text></g>
<g class="s"><text x="1023" y="666" class="s">*Depending on the text, the</text><text x="1023" y="675" class="s">second tonification and second</text><text x="1023" y="684" class="s">sedation points for the kidney</text><text x="1023" y="692" class="s">meridian are either KI3 or KI5.</text><text x="1023" y="701" class="s">The bladder meridian are</text><text x="1023" y="709" class="s">either BL40 or BL54</text></g>

<!-- ========== SPECIAL POINTS TABLE ========== -->
<g stroke="#555" stroke-width="0.8">
<rect x="1138" y="602" width="285" height="117" fill="#fff" stroke-width="1.5"/>
<rect x="1177" y="602" width="246" height="18" fill="#eeeeee"/>
<rect x="1177" y="620" width="41" height="99" fill="#e4e0da"/>
<rect x="1218" y="620" width="41" height="99" fill="#f5ee8e"/>
<rect x="1259" y="620" width="41" height="99" fill="#ef8797"/>
<rect x="1300" y="620" width="41" height="99" fill="#4fbde9"/>
<rect x="1341" y="620" width="41" height="99" fill="#ef8797"/>
<rect x="1382" y="620" width="41" height="99" fill="#a1d07e"/>
<line x1="1259" y1="602" x2="1259" y2="620"/><line x1="1341" y1="602" x2="1341" y2="620"/>
<line x1="1197" y1="620" x2="1197" y2="719"/><line x1="1238" y1="620" x2="1238" y2="719"/><line x1="1280" y1="620" x2="1280" y2="719"/><line x1="1320" y1="620" x2="1320" y2="719"/><line x1="1361" y1="620" x2="1361" y2="719"/><line x1="1402" y1="620" x2="1402" y2="719"/>
<line x1="1138" y1="636" x2="1423" y2="636"/><line x1="1138" y1="653" x2="1423" y2="653"/><line x1="1138" y1="669" x2="1423" y2="669"/><line x1="1138" y1="686" x2="1423" y2="686"/><line x1="1138" y1="702" x2="1423" y2="702"/>
<line x1="1177" y1="602" x2="1177" y2="719"/>
</g>
<g class="sf" style="font-size:8px">
<text x="1158" y="618" class="c sf">Special</text><text x="1158" y="628" class="c sf">Points</text>
<text x="1218" y="614" class="c sf">Earth</text><text x="1300" y="614" class="c sf">Heaven</text><text x="1382" y="614" class="c sf">Man</text>
<text x="1187" y="631" class="c sf">LU</text><text x="1207" y="631" class="c sf">LI</text><text x="1228" y="631" class="c sf">ST</text><text x="1248" y="631" class="c sf">SP</text><text x="1269" y="631" class="c sf">HT</text><text x="1290" y="631" class="c sf">SI</text><text x="1310" y="631" class="c sf">BL</text><text x="1330" y="631" class="c sf">KI</text><text x="1351" y="631" class="c sf">P</text><text x="1371" y="631" class="c sf">TW</text><text x="1392" y="631" class="c sf">GB</text><text x="1412" y="631" class="c sf">LV</text>
<text x="1142" y="647" class="sf">Source</text><text x="1142" y="664" class="sf">Luo</text><text x="1142" y="680" class="sf">Xi-Cleft</text><text x="1142" y="697" class="sf">Entry</text><text x="1142" y="713" class="sf">Exit</text>
<text x="1187" y="647" class="c sf">9</text><text x="1207" y="647" class="c sf">4</text><text x="1228" y="647" class="c sf">42</text><text x="1248" y="647" class="c sf">3</text><text x="1269" y="647" class="c sf">7</text><text x="1290" y="647" class="c sf">4</text><text x="1310" y="647" class="c sf">64</text><text x="1330" y="647" class="c sf">3</text><text x="1351" y="647" class="c sf">7</text><text x="1371" y="647" class="c sf">4</text><text x="1392" y="647" class="c sf">40</text><text x="1412" y="647" class="c sf">3</text>
<text x="1187" y="664" class="c sf">7</text><text x="1207" y="664" class="c sf">6</text><text x="1228" y="664" class="c sf">40</text><text x="1248" y="664" class="c sf">4</text><text x="1269" y="664" class="c sf">5</text><text x="1290" y="664" class="c sf">7</text><text x="1310" y="664" class="c sf">58</text><text x="1330" y="664" class="c sf">4</text><text x="1351" y="664" class="c sf">6</text><text x="1371" y="664" class="c sf">5</text><text x="1392" y="664" class="c sf">37</text><text x="1412" y="664" class="c sf">5</text>
<text x="1187" y="680" class="c sf">6</text><text x="1207" y="680" class="c sf">7</text><text x="1228" y="680" class="c sf">34</text><text x="1248" y="680" class="c sf">8</text><text x="1269" y="680" class="c sf">6</text><text x="1290" y="680" class="c sf">6</text><text x="1310" y="680" class="c sf">63</text><text x="1330" y="680" class="c sf">5</text><text x="1351" y="680" class="c sf">4</text><text x="1371" y="680" class="c sf">7</text><text x="1392" y="680" class="c sf">36</text><text x="1412" y="680" class="c sf">6</text>
<text x="1187" y="697" class="c sf">1</text><text x="1207" y="697" class="c sf">4</text><text x="1228" y="697" class="c sf">1</text><text x="1248" y="697" class="c sf">1</text><text x="1269" y="697" class="c sf">1</text><text x="1290" y="697" class="c sf">1</text><text x="1310" y="697" class="c sf">1</text><text x="1330" y="697" class="c sf">1</text><text x="1351" y="697" class="c sf">1</text><text x="1371" y="697" class="c sf">1</text><text x="1392" y="697" class="c sf">1</text><text x="1412" y="697" class="c sf">1</text>
<text x="1187" y="713" class="c sf">7</text><text x="1207" y="713" class="c sf">20</text><text x="1228" y="713" class="c sf">42</text><text x="1248" y="713" class="c sf">21</text><text x="1269" y="713" class="c sf">9</text><text x="1290" y="713" class="c sf">19</text><text x="1310" y="713" class="c sf">67</text><text x="1330" y="713" class="c sf">22</text><text x="1351" y="713" class="c sf">8</text><text x="1371" y="713" class="c sf">22</text><text x="1392" y="713" class="c sf">41</text><text x="1412" y="713" class="c sf">14</text>
</g>

<!-- ========== TONIFICATION TABLE ========== -->
<text x="1053" y="726" class="c b">Tonification &amp; Sedation Points</text>
<g stroke="#666" stroke-width="0.7">
<rect x="956" y="731" width="196" height="336" fill="#fff" stroke="#444" stroke-width="1.4"/>
<rect x="956" y="731" width="196" height="24" fill="#ececec"/>
<rect x="956" y="899" width="196" height="24" fill="#ececec"/>
<rect x="956" y="755" width="37" height="24" fill="#e4e0da"/><rect x="956" y="779" width="37" height="24" fill="#f5ee8e"/><rect x="956" y="803" width="37" height="24" fill="#ef8797"/><rect x="956" y="827" width="37" height="24" fill="#4fbde9"/><rect x="956" y="851" width="37" height="24" fill="#ef8797"/><rect x="956" y="875" width="37" height="24" fill="#a1d07e"/>
<rect x="956" y="923" width="37" height="24" fill="#e4e0da"/><rect x="956" y="947" width="37" height="24" fill="#f5ee8e"/><rect x="956" y="971" width="37" height="24" fill="#ef8797"/><rect x="956" y="995" width="37" height="24" fill="#4fbde9"/><rect x="956" y="1019" width="37" height="24" fill="#ef8797"/><rect x="956" y="1043" width="37" height="24" fill="#a1d07e"/>
<path d="M956,743 H1152 M956,755 H1152 M956,767 H1152 M956,779 H1152 M956,791 H1152 M956,803 H1152 M956,815 H1152 M956,827 H1152 M956,839 H1152 M956,851 H1152 M956,863 H1152 M956,875 H1152 M956,887 H1152 M956,899 H1152 M956,911 H1152 M956,923 H1152 M956,935 H1152 M956,947 H1152 M956,959 H1152 M956,971 H1152 M956,983 H1152 M956,995 H1152 M956,1007 H1152 M956,1019 H1152 M956,1031 H1152 M956,1043 H1152 M956,1055 H1152"/>
<path d="M993,743 V899 M1067,743 V899 M1031,755 V899 M1110,755 V899 M993,911 V1067 M1067,911 V1067 M1031,923 V1067 M1110,923 V1067"/>
</g>
<text x="1054" y="741" class="c b">Tonification Points</text><text x="1030" y="753" class="c b">First</text><text x="1109" y="753" class="c b g">Second</text>
<text x="1054" y="909" class="c b">Sedation Points</text><text x="1030" y="921" class="c b">First</text><text x="1109" y="921" class="c b">Second</text>
<g style="font-size:8.5px">
<text x="959" y="764">LU</text><text x="996" y="764">LU9</text><text x="1034" y="764">SP3</text><text x="1070" y="764" class="g">LU10</text><text x="1113" y="764" class="g">HT8</text>
<text x="959" y="776">LI</text><text x="996" y="776">LI11</text><text x="1034" y="776">ST36</text><text x="1070" y="776" class="g">LI5</text><text x="1113" y="776" class="g">SI5</text>
<text x="959" y="788">ST</text><text x="996" y="788">ST41</text><text x="1034" y="788">SI5</text><text x="1070" y="788" class="g">ST43</text><text x="1113" y="788" class="g">GB41</text>
<text x="959" y="800">SP</text><text x="996" y="800">SP2</text><text x="1034" y="800">HT8</text><text x="1070" y="800" class="g">SP1</text><text x="1113" y="800" class="g">LV1</text>
<text x="959" y="812">HT</text><text x="996" y="812">HT9</text><text x="1034" y="812">LV1</text><text x="1070" y="812">HT3</text><text x="1113" y="812">KI10</text>
<text x="959" y="824">SI</text><text x="996" y="824">SI3</text><text x="1034" y="824">GB41</text><text x="1070" y="824">SI2</text><text x="1113" y="824">BL66</text>
<text x="959" y="836">BL</text><text x="996" y="836">BL67</text><text x="1034" y="836">LI1</text><text x="1070" y="836">BL40/54*</text><text x="1113" y="836">ST36</text>
<text x="959" y="848">KI</text><text x="996" y="848">KI7</text><text x="1034" y="848">LU8</text><text x="1070" y="848">KI3/5*</text><text x="1113" y="848">SP3</text>
<text x="959" y="860">P/CX</text><text x="996" y="860">P9</text><text x="1034" y="860">LV1</text><text x="1070" y="860">P3</text><text x="1113" y="860">KI10</text>
<text x="959" y="872">TW</text><text x="996" y="872">TW3</text><text x="1034" y="872">GB41</text><text x="1070" y="872">TW2</text><text x="1113" y="872">BL66</text>
<text x="959" y="884">GB</text><text x="996" y="884">GB43</text><text x="1034" y="884">BL66</text><text x="1070" y="884">GB44</text><text x="1113" y="884">LI1</text>
<text x="959" y="896">LV</text><text x="996" y="896">LV8</text><text x="1034" y="896">KI10</text><text x="1070" y="896">LV4</text><text x="1113" y="896">LU8</text>
<text x="959" y="932">LU</text><text x="996" y="932">LU5</text><text x="1034" y="932">KI10</text><text x="1070" y="932">LU10</text><text x="1113" y="932">HT8</text>
<text x="959" y="944">LI</text><text x="996" y="944">LI2</text><text x="1034" y="944">BL66</text><text x="1070" y="944">LI5</text><text x="1113" y="944">SI5</text>
<text x="959" y="956">ST</text><text x="996" y="956">ST45</text><text x="1034" y="956">LI1</text><text x="1070" y="956">ST43</text><text x="1113" y="956">GB41</text>
<text x="959" y="968">SP</text><text x="996" y="968">SP5</text><text x="1034" y="968">LU8</text><text x="1070" y="968">SP1</text><text x="1113" y="968">LV1</text>
<text x="959" y="980">HT</text><text x="996" y="980">HT7</text><text x="1034" y="980">SP3</text><text x="1070" y="980">HT3</text><text x="1113" y="980">KI10</text>
<text x="959" y="992">SI</text><text x="996" y="992">SI8</text><text x="1034" y="992">ST36</text><text x="1070" y="992">SI2</text><text x="1113" y="992">BL66</text>
<text x="959" y="1004">BL</text><text x="996" y="1004">BL65</text><text x="1034" y="1004">GB41</text><text x="1070" y="1004">BL40/54*</text><text x="1113" y="1004">ST36</text>
<text x="959" y="1016">KI</text><text x="996" y="1016">KI1</text><text x="1034" y="1016">LV1</text><text x="1070" y="1016">KI3/5*</text><text x="1113" y="1016">SP3</text>
<text x="959" y="1028">P/CX</text><text x="996" y="1028">P7</text><text x="1034" y="1028">SP3</text><text x="1070" y="1028">P3</text><text x="1113" y="1028">KI10</text>
<text x="959" y="1040">TW</text><text x="996" y="1040">TW10</text><text x="1034" y="1040">ST36</text><text x="1070" y="1040">TW2</text><text x="1113" y="1040">BL66</text>
<text x="959" y="1052">GB</text><text x="996" y="1052">GB38</text><text x="1034" y="1052">SI5</text><text x="1070" y="1052">GB44</text><text x="1113" y="1052">LI1</text>
<text x="959" y="1064">LV</text><text x="996" y="1064">LV2</text><text x="1034" y="1064">HT8</text><text x="1070" y="1064">LV4</text><text x="1113" y="1064">LU8</text>
</g>

<!-- ========== ARMS ========== -->
<path class="skin" d="M1175,757 L1217,757 C1216,800 1218,850 1222,890 C1226,915 1232,935 1238,950 C1250,958 1265,965 1273,975 C1276,985 1268,990 1260,985 C1252,990 1250,1005 1252,1020 C1254,1035 1250,1045 1243,1045 L1210,1055 C1200,1052 1195,1040 1193,1025 C1190,1000 1186,980 1185,960 C1183,930 1182,900 1182,870 C1180,830 1176,790 1175,757 Z"/>
<path d="M1200,1000 L1200,1050 M1213,1002 L1214,1055 M1226,1000 L1229,1050 M1240,998 L1244,1043" stroke="#8a8173" stroke-width="0.7"/>
<path class="skin" d="M1367,757 L1413,757 C1410,800 1405,850 1400,890 C1397,920 1395,940 1393,955 L1385,975 L1355,985 C1335,990 1315,995 1305,990 C1300,985 1310,975 1325,970 C1340,965 1352,955 1358,945 C1360,900 1362,850 1365,800 C1366,785 1366,770 1367,757 Z"/>
<g><circle cx="1188" cy="797" r="2" fill="#f2e52a" stroke="#555" stroke-width="0.4"/><circle cx="1176" cy="815" r="2" fill="#f2e52a" stroke="#555" stroke-width="0.4"/><circle cx="1217" cy="813" r="2" fill="#f2e52a" stroke="#555" stroke-width="0.4"/><circle cx="1217" cy="924" r="2" fill="#e84a5a"/><circle cx="1196" cy="961" r="2" fill="#e84a5a"/><circle cx="1217" cy="1004" r="2" fill="#6ab446"/><circle cx="1244" cy="964" r="2" fill="#e84a5a"/><circle cx="1240" cy="1000" r="2" fill="#6ab446"/><circle cx="1244" cy="1012" r="2" fill="#14a6dd"/><circle cx="1203" cy="1008" r="2" fill="#14a6dd"/><circle cx="1211" cy="1014" r="2" fill="#14a6dd"/><circle cx="1262" cy="982" r="2" fill="#6ab446"/><circle cx="1243" cy="1044" r="2" fill="#6ab446"/><circle cx="1198" cy="1030" r="2" fill="#6ab446"/><circle cx="1380" cy="810" r="2" fill="#14a6dd"/><circle cx="1392" cy="814" r="2" fill="#14a6dd"/><circle cx="1408" cy="809" r="2" fill="#14a6dd"/><circle cx="1378" cy="948" r="2" fill="#f2e52a"/><circle cx="1392" cy="955" r="2" fill="#f2e52a"/><circle cx="1385" cy="945" r="2" fill="#bab3ab"/><circle cx="1342" cy="965" r="2" fill="#e84a5a"/></g>
<g style="font-size:8px">
<text x="1202" y="755" class="c">Right Arm</text><text x="1202" y="764" class="c">Posterior</text><text x="1388" y="754" class="c">Right Arm</text><text x="1388" y="764" class="c">Anterior</text>
<text x="1181" y="800">TW10</text><text x="1156" y="818">SI8</text><text x="1219" y="816">LI11</text><text x="1166" y="903">SI7</text><text x="1227" y="901">LI7</text><text x="1227" y="914">TW6</text><text x="1167" y="930">TW7</text><text x="1233" y="926">LI6</text><text x="1231" y="939">TW5</text><text x="1231" y="949">TW4</text><text x="1239" y="957">LI5</text><text x="1180" y="954">SI6</text><text x="1180" y="964">SI5</text><text x="1253" y="965">LI4</text><text x="1181" y="977">SI4</text><text x="1270" y="977">LU11</text><text x="1171" y="989">TW3</text><text x="1185" y="998">SI3</text><text x="1255" y="1000">LI3</text><text x="1180" y="1008">SI2</text><text x="1259" y="1011">LI2</text><text x="1165" y="1017">TW2</text><text x="1178" y="1029">SI1</text><text x="1263" y="1030">LI1</text><text x="1188" y="1047">HT9</text><text x="1242" y="1050">P9</text><text x="1202" y="1061">TW1</text>
<text x="1396" y="807">HT3</text><text x="1355" y="818">LU5</text><text x="1386" y="824">P3</text><text x="1345" y="887">LU6</text><text x="1411" y="907">P4</text><text x="1410" y="926">P5</text><text x="1410" y="936">P6</text><text x="1335" y="937">LU7</text><text x="1332" y="947">LU8</text><text x="1328" y="958">LU9</text><text x="1401" y="951">HT4</text><text x="1401" y="961">HT5</text><text x="1396" y="970">HT6</text><text x="1309" y="975">LU10</text>
</g>
<!-- mini 5 elements -->
<g stroke="#444" stroke-width="0.8" fill="none"><path d="M1291,750 L1308,802 L1263,770 L1318,768 L1275,803 Z"/><path d="M1291,750 L1318,768 L1308,802 L1275,803 L1263,770 Z"/></g>
<circle cx="1291" cy="750" r="13" fill="#e84856"/><circle cx="1318" cy="769" r="13" fill="#f2e628"/><circle cx="1308" cy="802" r="13" fill="#bcb6b0"/><circle cx="1275" cy="803" r="13" fill="#17a9df"/><circle cx="1263" cy="770" r="13" fill="#63b548"/>
<g style="font-size:16px;font-weight:bold"><text x="1291" y="756" class="c" style="font-family:'Noto Sans CJK SC',sans-serif;font-size:16px;fill:#111">火</text><text x="1318" y="775" class="c" style="font-family:'Noto Sans CJK SC',sans-serif;font-size:16px;fill:#111">土</text><text x="1308" y="808" class="c" style="font-family:'Noto Sans CJK SC',sans-serif;font-size:16px;fill:#111">金</text><text x="1275" y="809" class="c" style="font-family:'Noto Sans CJK SC',sans-serif;font-size:16px;fill:#111">水</text><text x="1263" y="776" class="c" style="font-family:'Noto Sans CJK SC',sans-serif;font-size:16px;fill:#111">木</text></g>
<text x="1290" y="733" class="c">Fire</text><text x="1256" y="754" class="c">Wood</text><text x="1325" y="754" class="c">Earth</text><text x="1258" y="821" class="c">Water</text><text x="1327" y="821" class="c">Metal</text>
<g><circle cx="1268" cy="841" r="1.8" fill="#6ab446"/><circle cx="1268" cy="851" r="1.8" fill="#e84a5a"/><circle cx="1268" cy="862" r="1.8" fill="#f2e52a"/><circle cx="1268" cy="872" r="1.8" fill="#fff" stroke="#777" stroke-width="0.5"/><circle cx="1268" cy="883" r="1.8" fill="#14a6dd"/><path d="M1266,895 L1268,891 L1270,895 Z" fill="none" stroke="#555" stroke-width="0.5"/><circle cx="1268" cy="904" r="1.8" fill="#777"/><path d="M1266,912 L1270,912 L1268,916 Z" fill="#222"/></g>
<g><text x="1276" y="844">Wood Pt</text><text x="1276" y="855">Fire Pt</text><text x="1276" y="865">Earth Pt</text><text x="1276" y="876">Metal Pt</text><text x="1276" y="886">Water Pt</text><text x="1276" y="897">Source Pt</text><text x="1276" y="908">Luo Pt</text><text x="1276" y="918">Xi Cleft pt</text></g>

<!-- Body of Elements logo -->
<circle cx="1395" cy="1035" r="65" fill="url(#logo)"/>
<circle cx="1395" cy="1035" r="55" fill="#fff"/>
<g fill="none" stroke-width="12">
<path d="M1374.7,991.5 A48,48 0 0 1 1425.9,998.2" stroke="#e8212c"/>
<path d="M1434.3,1007.5 A48,48 0 0 1 1431.8,1065.9" stroke="#f4ea16"/>
<path d="M1419,1076.6 A48,48 0 0 1 1364.1,1071.8" stroke="#283592"/>
<path d="M1355.7,1062.5 A48,48 0 0 1 1355.7,1007.5" stroke="#1a9a3a"/>
</g>
<circle cx="1395" cy="1035" r="39" fill="url(#logoc)"/>
<text x="1393" y="1024" class="c sf" style="font-size:18px;fill:#222">Body</text>
<text x="1393" y="1040" class="c sf" style="font-size:14px;fill:#222">of</text>
<text x="1395" y="1057" class="c sf" style="font-size:15px;fill:#222">Elements</text>

<!-- ========== LEGS ========== -->
<text x="732" y="783" class="c b">Tonification &amp; Sedation Points</text>
<path class="skin" d="M610,793 L680,793 C668,815 660,830 658,850 C662,880 668,910 660,945 C656,965 657,985 666,1000 C675,1012 672,1030 660,1033 L585,1037 C568,1036 562,1028 572,1020 C595,1010 620,998 628,985 C630,960 620,930 612,900 C604,870 600,845 606,825 C607,812 608,800 610,793 Z"/>
<path class="skin" d="M705,795 L790,795 C788,820 785,840 790,860 C800,890 802,920 795,945 C790,965 788,985 792,1000 C800,1015 805,1035 795,1048 L720,1052 C700,1052 690,1045 697,1038 C715,1030 740,1020 752,1005 C756,985 752,965 740,945 C725,920 715,890 715,865 C713,840 708,820 705,795 Z"/>
<path d="M720,860 C730,900 745,930 770,945" stroke="#9a907f" stroke-width="0.8" fill="none"/>
<path class="skin" d="M812,800 C812,785 842,785 846,808 C849,830 841,850 836,866 C831,879 815,879 812,866 C808,845 805,820 812,800 Z"/>
<g fill="#e2dccf" stroke="#6f6759" stroke-width="0.8"><ellipse cx="818" cy="790" rx="6" ry="7"/><ellipse cx="829" cy="791" rx="3.5" ry="4"/><ellipse cx="836" cy="795" rx="3" ry="3.5"/><ellipse cx="841" cy="801" rx="3" ry="3.5"/><ellipse cx="845" cy="808" rx="2.5" ry="3"/></g>
<path class="skin" d="M868,782 L923,782 C922,810 918,830 920,850 C924,880 918,920 912,950 C910,970 912,985 918,995 C928,1010 930,1030 924,1045 L880,1048 C874,1040 874,1020 880,1005 C884,990 884,975 880,960 C874,920 870,880 868,840 C866,815 866,800 868,782 Z"/>
<path d="M875,800 C885,815 905,820 920,810" stroke="#9a907f" stroke-width="0.8" fill="none"/>
<g><circle cx="633" cy="841" r="2.2" fill="#14a6dd"/><circle cx="642" cy="848" r="2.2" fill="#14a6dd"/><circle cx="626" cy="866" r="2.2" fill="#14a6dd"/><circle cx="630" cy="953" r="2" fill="#777"/><circle cx="637" cy="969" r="2" fill="#777"/><circle cx="652" cy="972" r="2" fill="#fff" stroke="#555" stroke-width="0.5"/><circle cx="632" cy="990" r="2" fill="#fff" stroke="#555" stroke-width="0.5"/><circle cx="656" cy="1001" r="2" fill="#777"/><circle cx="628" cy="1006" r="2" fill="#fff" stroke="#555" stroke-width="0.5"/><circle cx="628" cy="1016" r="2.2" fill="#e84a5a"/><circle cx="585" cy="1021" r="2.2" fill="#e84a5a"/><circle cx="579" cy="1025" r="2.2" fill="#e84a5a"/><circle cx="614" cy="1019" r="2" fill="#777"/><path d="M650,990 L653,984 L656,990 Z" fill="#f2e52a" stroke="#333" stroke-width="0.5"/><path d="M601,1008 L604,1002 L607,1008 Z" fill="#f2e52a" stroke="#333" stroke-width="0.5"/><path d="M591,1027 L594,1021 L597,1027 Z" fill="#f2e52a" stroke="#333" stroke-width="0.5"/>
<circle cx="761" cy="832" r="2.2" fill="#f2e52a"/><circle cx="748" cy="847" r="2.2" fill="#f2e52a"/><circle cx="737" cy="864" r="2.2" fill="#f2e52a"/><circle cx="784" cy="915" r="2" fill="#777"/><circle cx="768" cy="971" r="2" fill="#777"/><circle cx="768" cy="980" r="2.2" fill="#e84a5a"/><circle cx="752" cy="1019" r="2.2" fill="#e84a5a"/><circle cx="786" cy="1019" r="2.2" fill="#e84a5a"/><circle cx="733" cy="1033" r="2.2" fill="#6ab446"/><circle cx="743" cy="1040" r="2.2" fill="#6ab446"/><circle cx="734" cy="1048" r="2.2" fill="#6ab446"/><circle cx="722" cy="1049" r="2.2" fill="#14a6dd"/><circle cx="825" cy="827" r="2.2" fill="#6ab446"/>
<circle cx="905" cy="862" r="2.2" fill="#f2e52a"/><circle cx="890" cy="947" r="2" fill="#777"/><circle cx="886" cy="962" r="2" fill="#777"/><circle cx="884" cy="988" r="2" fill="#fff" stroke="#555" stroke-width="0.5"/><circle cx="893" cy="997" r="2.2" fill="#e84a5a"/><circle cx="896" cy="1016" r="2.2" fill="#6ab446"/><circle cx="910" cy="1017" r="2.2" fill="#6ab446"/><circle cx="890" cy="1031" r="2.2" fill="#e84a5a"/><circle cx="900" cy="1032" r="2.2" fill="#14a6dd"/><circle cx="912" cy="1032" r="2.2" fill="#14a6dd"/><circle cx="884" cy="1039" r="2.2" fill="#6ab446"/><circle cx="891" cy="1038" r="2.2" fill="#6ab446"/></g>
<g style="font-size:8px">
<text x="642" y="804" class="c">Right Leg</text><text x="642" y="814" class="c">Medial</text>
<text x="614" y="848">LV8</text><text x="651" y="852">KI10</text><text x="614" y="876">SP9</text><text x="620" y="923">SP8</text><text x="600" y="946">LV6</text><text x="582" y="957">ST40</text><text x="603" y="967">LV5</text><text x="666" y="970">KI7</text><text x="610" y="982">LV4</text><text x="605" y="994">SP5</text><text x="663" y="994">KI3</text><text x="585" y="996">LV3</text><text x="670" y="1005">KI4</text><text x="570" y="1010">LV2</text><text x="668" y="1018">KI5</text><text x="560" y="1042">SP2</text><text x="586" y="1044">SP3</text><text x="607" y="1041">SP4</text><text x="630" y="1041">KI2</text>
<text x="734" y="806" class="c">Left Leg</text><text x="734" y="816" class="c">Lateral</text>
<text x="767" y="835">BL40</text><text x="736" y="850">GB34</text><text x="704" y="876">ST36</text><text x="795" y="909">BL58</text><text x="719" y="950">GB36</text><text x="724" y="967">GB37</text><text x="726" y="978">GB38</text><text x="725" y="996">GB40</text><text x="728" y="1012">ST41</text><text x="795" y="1020">BL60</text><text x="710" y="1023">ST43</text><text x="741" y="1036">GB41</text><text x="668" y="1055">BL67</text><text x="701" y="1062">BL66</text><text x="729" y="1066">BL65</text><text x="755" y="1065">BL64</text><text x="778" y="1061">BL63</text>
<text x="815" y="820">KI1</text>
<text x="897" y="779" class="c">Left Leg</text><text x="897" y="788" class="c">Anterior</text>
<text x="920" y="802">ST34</text><text x="916" y="865">ST36</text><text x="847" y="939">LV6</text><text x="849" y="952">ST40</text><text x="849" y="966">LV5</text><text x="861" y="991">LV4</text><text x="844" y="1000">ST41</text><text x="846" y="1008">ST42</text><text x="849" y="1018">ST43</text><text x="849" y="1029">ST44</text><text x="855" y="1039">LV2</text><text x="857" y="1056">SP1</text><text x="884" y="1061">LV1</text><text x="911" y="1058">ST45</text><text x="913" y="1000">GB41</text><text x="916" y="1015">GB43</text><text x="926" y="1029">BL67</text><text x="927" y="1049">GB44</text>
</g>

<!-- ========== POSTERIOR SKELETON ========== -->
<g>
<path class="bone" d="M80,612 C90,600 112,600 130,606 L134,616 L126,672 C115,668 102,660 97,648 L90,660 C82,648 78,630 80,612 Z"/>
<path class="bone" d="M273,612 C263,600 241,600 223,606 L219,616 L227,672 C238,668 251,660 256,648 L263,660 C271,648 275,630 273,612 Z"/>
<path class="bone" d="M78,614 C72,628 74,655 79,685 L91,686 C91,662 93,638 96,617 Z"/>
<path class="bone" d="M275,614 C281,628 279,655 274,685 L262,686 C262,662 260,638 257,617 Z"/>
<circle cx="92" cy="616" r="6" fill="#7d8f55"/><circle cx="262" cy="616" r="6" fill="#7d8f55"/>
<g stroke="#7d6a3a" stroke-width="7.5" fill="none" stroke-linecap="round"><use href="#ribsP"/><use href="#ribsP" transform="translate(354,0) scale(-1,1)"/></g>
<g stroke="#e6d7a6" stroke-width="5" fill="none" stroke-linecap="round"><use href="#ribsP"/><use href="#ribsP" transform="translate(354,0) scale(-1,1)"/></g>
<path class="bone" d="M125,798 C140,788 165,790 177,800 C189,790 214,788 229,798 C242,810 244,835 232,850 L215,862 L177,866 L139,862 L122,850 C110,835 112,810 125,798 Z"/>
<path d="M164,806 L190,806 L185,862 L169,862 Z" fill="#cfb880" stroke="#7a6232" stroke-width="0.8"/>
<circle cx="128" cy="842" r="6" fill="#7d8f55"/><circle cx="224" cy="842" r="6" fill="#7d8f55"/>
<path class="bone" d="M120,845 C130,842 138,850 135,862 L124,900 L110,898 L116,860 Z"/>
<path class="bone" d="M222,842 C235,838 244,846 240,860 L238,942 L222,942 L220,860 Z"/>
<path class="bone" d="M167,558 L187,558 L189,605 L165,605 Z"/>
<path d="M165,565 h24 M165,573 h24 M165,581 h24 M165,589 h24 M165,597 h24" stroke="#8b7443" stroke-width="0.8"/>
<rect x="169" y="605" width="16" height="195" fill="#e0cd98" stroke="#7a6232" stroke-width="0.8"/>
<path d="M169,617 h16 M169,630 h16 M169,643 h16 M169,656 h16 M169,669 h16 M169,682 h16 M169,695 h16 M169,708 h16 M169,721 h16 M169,734 h16 M169,747 h16 M169,760 h16 M169,773 h16 M169,786 h16" stroke="#7a6232" stroke-width="0.8"/>
<ellipse cx="182" cy="523" rx="27" ry="34" class="bone"/>
<path d="M160,540 C170,560 195,560 205,540 L200,556 L164,556 Z" fill="#5a4420" opacity="0.6"/>
<path d="M164,500 C172,505 180,498 190,506 C196,510 200,506 204,512" stroke="#9d8650" stroke-width="0.7" fill="none"/>
<g class="bu"><line x1="84" y1="612" x2="108" y2="622"/><line x1="250" y1="612" x2="228" y2="622"/><path d="M132,757 L160,757 L159,793 L132,793 Z M160,757 L140,793"/><path d="M193,757 L220,793 L193,793 Z"/></g>
<g fill="#1e9fdc"><circle cx="160" cy="557" r="3.6"/><circle cx="195" cy="557" r="3.6"/><circle cx="170" cy="566" r="3.6"/><circle cx="185" cy="566" r="3.6"/><circle cx="170" cy="607" r="3.6"/><circle cx="185" cy="607" r="3.6"/><circle cx="167" cy="617" r="3.6"/><circle cx="188" cy="617" r="3.6"/><circle cx="170" cy="625" r="3.6"/><circle cx="185" cy="625" r="3.6"/><circle cx="170" cy="633" r="3.6"/><circle cx="185" cy="633" r="3.6"/><circle cx="170" cy="643" r="3.6"/><circle cx="185" cy="643" r="3.6"/><circle cx="170" cy="653" r="3.6"/><circle cx="170" cy="667" r="3.6"/><circle cx="170" cy="682" r="3.6"/><circle cx="185" cy="682" r="3.6"/><circle cx="170" cy="692" r="3.6"/><circle cx="185" cy="692" r="3.6"/><circle cx="170" cy="703" r="3.6"/><circle cx="185" cy="703" r="3.6"/><circle cx="170" cy="718" r="3.6"/><circle cx="185" cy="718" r="3.6"/><circle cx="170" cy="728" r="3.6"/><circle cx="185" cy="728" r="3.6"/><circle cx="170" cy="739" r="3.6"/><circle cx="185" cy="739" r="3.6"/><circle cx="159" cy="756" r="3.6"/><circle cx="194" cy="756" r="3.6"/><circle cx="160" cy="803" r="3.6"/><circle cx="192" cy="803" r="3.6"/><circle cx="107" cy="642" r="3.6"/><circle cx="127" cy="670" r="3.6"/><circle cx="153" cy="704" r="3.6"/><circle cx="145" cy="747" r="3.6"/><circle cx="215" cy="747" r="3.6"/><circle cx="232" cy="672" r="3.6"/><circle cx="247" cy="651" r="3.6"/></g>
</g>
<text x="78" y="590">Posterior</text><text x="78" y="599">Skeleton</text>
<text x="20" y="680" class="b">Left Side Only</text><text x="20" y="693">Pectoralis Clavicular</text><text x="20" y="702">Rhomboids</text><text x="20" y="711">Supinator</text>
<text x="20" y="727">Latissimus Dorsi</text><text x="20" y="736">Triceps</text><text x="20" y="745">Mid Trapezius</text><text x="20" y="754">Lower Trapezius</text><text x="20" y="771">Diaphragm</text>
<g class="bl"><line x1="95" y1="688" x2="95" y2="710" stroke-width="2"/><line x1="84" y1="722" x2="84" y2="752" stroke-width="2"/><line x1="95" y1="699" x2="150" y2="660"/><line x1="84" y1="737" x2="160" y2="672"/><line x1="64" y1="768" x2="84" y2="768" stroke-width="2"/><line x1="84" y1="768" x2="165" y2="700"/></g>

<!-- ========== ANTERIOR SKELETON ========== -->
<g>
<path class="bone" d="M391,650 C392,638 405,632 420,636 C428,645 426,665 424,690 L422,706 L404,706 C398,690 390,668 391,650 Z"/>
<path class="bone" d="M599,650 C598,638 585,632 570,636 C562,645 564,665 566,690 L568,700 L585,700 C592,688 600,668 599,650 Z"/>
<circle cx="418" cy="648" r="7" fill="#7d8f55"/><circle cx="570" cy="650" r="7" fill="#7d8f55"/>
<g stroke="#7d6a3a" stroke-width="8" fill="none" stroke-linecap="round"><path d="M488,633 C465,622 430,625 408,640"/><path d="M504,633 C527,622 562,625 584,640"/></g>
<g stroke="#e6d7a6" stroke-width="5.5" fill="none" stroke-linecap="round"><path d="M488,633 C465,622 430,625 408,640"/><path d="M504,633 C527,622 562,625 584,640"/></g>
<g stroke="#7d6a3a" stroke-width="7.5" fill="none" stroke-linecap="round"><use href="#ribsA"/><use href="#ribsA" transform="translate(990,0) scale(-1,1)"/></g>
<g stroke="#e6d7a6" stroke-width="5" fill="none" stroke-linecap="round"><use href="#ribsA"/><use href="#ribsA" transform="translate(990,0) scale(-1,1)"/></g>
<g stroke="#9aa874" stroke-width="3" fill="none"><path d="M490,700 C475,710 460,725 450,748"/><path d="M500,700 C515,710 530,725 540,748"/><path d="M490,712 C478,722 465,735 458,752"/><path d="M500,712 C512,722 525,735 532,752"/></g>
<rect x="490" y="630" width="10" height="80" rx="3" fill="#e6d7a6" stroke="#7a6232" stroke-width="0.8"/>
<rect x="486" y="596" width="18" height="36" fill="#e0cd98" stroke="#7a6232" stroke-width="0.8"/>
<rect x="485" y="712" width="20" height="100" fill="#e0cd98" stroke="#7a6232" stroke-width="0.8"/>
<path d="M486,603 h18 M486,611 h18 M486,619 h18 M486,627 h18 M485,725 h20 M485,738 h20 M485,751 h20 M485,764 h20 M485,777 h20 M485,790 h20 M485,803 h20" stroke="#8c9a60" stroke-width="2"/>
<path class="bone" d="M493,800 C470,788 440,790 425,805 C415,825 422,852 442,868 C458,880 478,890 492,895 L495,880 Z"/>
<path class="bone" d="M497,800 C520,788 550,790 565,805 C575,825 568,852 548,868 C532,880 512,890 498,895 L495,880 Z"/>
<path d="M478,830 L512,830 L505,870 L485,870 Z" fill="#cfb880" stroke="#7a6232" stroke-width="0.8"/>
<ellipse cx="470" cy="885" rx="8" ry="6" fill="#fff" stroke="#7a6232"/><ellipse cx="520" cy="885" rx="8" ry="6" fill="#fff" stroke="#7a6232"/>
<circle cx="438" cy="866" r="8" fill="#7d8f55"/><circle cx="552" cy="866" r="8" fill="#7d8f55"/>
<g stroke-linecap="round"><line x1="440" y1="872" x2="470" y2="1030" stroke="#7d6a3a" stroke-width="15"/><line x1="550" y1="872" x2="518" y2="1030" stroke="#7d6a3a" stroke-width="15"/><line x1="440" y1="872" x2="470" y2="1030" stroke="#e6d7a6" stroke-width="12"/><line x1="550" y1="872" x2="518" y2="1030" stroke="#e6d7a6" stroke-width="12"/></g>
<path class="bone" d="M428,868 C432,858 448,858 452,872 L446,885 L432,884 Z"/><path class="bone" d="M562,868 C558,858 542,858 538,872 L544,885 L558,884 Z"/>
<ellipse cx="469" cy="1040" rx="19" ry="14" class="bone"/><ellipse cx="521" cy="1040" rx="19" ry="14" class="bone"/>
<path class="bone" d="M455,1050 L484,1050 L482,1082 L457,1082 Z"/><path class="bone" d="M506,1050 L535,1050 L533,1082 L508,1082 Z"/>
<path d="M452,1050 h34 M504,1050 h34" stroke="#8c9a60" stroke-width="3"/>
<g class="bu"><line x1="413" y1="883" x2="443" y2="1033"/><line x1="458" y1="902" x2="475" y2="968"/><line x1="530" y1="902" x2="510" y2="970"/><line x1="568" y1="883" x2="548" y2="1030"/><line x1="487" y1="1017" x2="490" y2="1040"/><line x1="503" y1="1017" x2="498" y2="1040"/><line x1="497" y1="648" x2="497" y2="700"/><line x1="440" y1="650" x2="455" y2="656"/><line x1="545" y1="656" x2="558" y2="650"/><line x1="430" y1="698" x2="455" y2="692"/><line x1="455" y1="743" x2="465" y2="735"/><line x1="527" y1="735" x2="540" y2="743"/><line x1="418" y1="672" x2="418" y2="688"/><line x1="568" y1="676" x2="571" y2="690"/></g>
<g fill="#1e9fdc"><circle cx="437" cy="643" r="3.6"/><circle cx="467" cy="637" r="3.6"/><circle cx="482" cy="640" r="3.6"/><circle cx="483" cy="650" r="3.6"/><circle cx="484" cy="660" r="3.6"/><circle cx="484" cy="671" r="3.6"/><circle cx="484" cy="679" r="3.6"/><circle cx="484" cy="688" r="3.6"/><circle cx="452" cy="683" r="3.6"/><circle cx="497" cy="701" r="3.6"/><circle cx="512" cy="640" r="3.6"/><circle cx="510" cy="650" r="3.6"/><circle cx="509" cy="660" r="3.6"/><circle cx="509" cy="669" r="3.6"/><circle cx="509" cy="679" r="3.6"/><circle cx="528" cy="640" r="3.6"/><circle cx="551" cy="647" r="3.6"/><circle cx="527" cy="660" r="3.6"/><circle cx="541" cy="683" r="3.6"/><circle cx="529" cy="714" r="3.6"/><circle cx="479" cy="758" r="3.6"/><circle cx="479" cy="768" r="3.6"/><circle cx="479" cy="779" r="3.6"/><circle cx="515" cy="758" r="3.6"/><circle cx="515" cy="768" r="3.6"/><circle cx="515" cy="779" r="3.6"/><circle cx="486" cy="849" r="3.6"/><circle cx="506" cy="849" r="3.6"/><circle cx="483" cy="873" r="3.6"/><circle cx="496" cy="879" r="3.6"/><circle cx="508" cy="873" r="3.6"/><circle cx="484" cy="886" r="3.6"/><circle cx="508" cy="885" r="3.6"/><circle cx="461" cy="887" r="3.6"/><circle cx="528" cy="893" r="3.6"/></g>
</g>
<text x="538" y="610" class="s g">Anterior</text><text x="538" y="618" class="s g">Skeleton</text>
<text x="577" y="705" class="b">Left Side Only</text><text x="577" y="716">Pectoralis Clavicular</text><text x="577" y="725">Rhomboids</text><text x="577" y="734">Supinator</text>
<text x="577" y="751">Latissimus Dorsi</text><text x="577" y="760">Triceps</text><text x="577" y="769">Mid Trapezius</text><text x="577" y="778">Lower Trapezius</text>
<g class="bl"><line x1="572" y1="708" x2="572" y2="735" stroke-width="2"/><line x1="572" y1="744" x2="572" y2="778" stroke-width="2"/><line x1="572" y1="721" x2="540" y2="700"/><line x1="572" y1="755" x2="530" y2="715"/></g>

<!-- ========== NEUROLYMPHATIC LIST ========== -->
<text x="285" y="478" class="b" style="font-size:9px">Neurolymphatic Reflexes</text>
<g>
<text x="297" y="492">Intrinsic Spinal Muscles</text><text x="297" y="501">Subclavius</text><text x="297" y="518">Levator Scapula</text>
<text x="297" y="536">Supraspinatus</text><text x="297" y="544">Upper Trapezius</text><text x="297" y="561">Neck Flexors</text><text x="297" y="570">Neck Extensors</text><text x="297" y="579">Biceps Brachii</text>
<text x="297" y="596">Subscapularis</text><text x="297" y="605">Teres Minor</text><text x="297" y="614">Teres Major</text><text x="297" y="622">Supraspinatus</text>
<text x="297" y="631" class="g">Brachioradialis</text><text x="297" y="640">Deltoids</text><text x="297" y="648" class="g">Coracobrachialis</text><text x="297" y="657" class="g">Serratus Anticus</text><text x="297" y="665" class="g">Levator Scapula</text>
<text x="297" y="682">Adductors</text><text x="297" y="692" class="g">Pronator Teres</text><text x="297" y="700">Flexor Pollicus</text><text x="297" y="709" class="g">Biceps Brachii</text>
<text x="297" y="726">Pectoralis Sternal</text><text x="297" y="735">Popliteus</text><text x="297" y="744">Diaphragm</text><text x="297" y="752">Pectoralis Minor</text><text x="297" y="761">Quadraceps</text>
<text x="297" y="769" class="g">Sartorius</text><text x="297" y="778" class="g">Gracilis</text><text x="297" y="787" class="g">Gastrocnemius</text><text x="297" y="796" class="g">Soleus</text><text x="297" y="804" class="g">Tibialis Posterior</text>
<text x="297" y="813">Quadratus Lumborum</text><text x="297" y="822" class="g">Infraspinatus</text><text x="297" y="830" class="g">Psoas</text><text x="297" y="839">Iliacus</text><text x="297" y="847">Sacospinalis</text><text x="297" y="856">Tibialis Anterior</text>
<text x="297" y="873">Piriformis</text><text x="297" y="882" class="g">Glutius Medius</text><text x="297" y="891" class="g">Glutius Minimus</text>
<text x="297" y="908" class="g">Opponens Pollicus</text><text x="297" y="917" class="g">Opponens Digiti Minimi</text><text x="297" y="925" class="g">Peroneus Longus</text><text x="297" y="934" class="g">Peroneus Brevis</text><text x="297" y="943" class="g">Peroneus Tertius</text>
<text x="297" y="951">Flexor Hallucis Longus</text><text x="297" y="960">Flexor Hallucis Brevis</text><text x="297" y="969">Hamstrings</text><text x="297" y="977">Gluteus Maximus</text><text x="297" y="986" text-decoration="underline">Tensor Fascia Lata</text><text x="297" y="995">Abdominals</text><text x="297" y="1003">Rectus Abdominis</text>
<text x="364" y="735">R</text>
</g>
<g stroke="#111" stroke-width="2.4">
<line x1="291" y1="486" x2="291" y2="500"/><line x1="291" y1="513" x2="291" y2="517"/><line x1="291" y1="531" x2="291" y2="545"/><line x1="291" y1="556" x2="291" y2="579"/><line x1="291" y1="590" x2="291" y2="666"/><line x1="291" y1="677" x2="291" y2="708"/><line x1="291" y1="721" x2="291" y2="855"/><line x1="291" y1="867" x2="291" y2="891"/><line x1="291" y1="901" x2="291" y2="1004"/>
<line x1="381" y1="486" x2="381" y2="500"/><line x1="381" y1="679" x2="381" y2="708"/><line x1="361" y1="513" x2="361" y2="517"/><line x1="361" y1="556" x2="361" y2="569"/><line x1="361" y1="590" x2="361" y2="602"/><line x1="361" y1="622" x2="361" y2="654"/><line x1="361" y1="721" x2="361" y2="733"/><line x1="361" y1="764" x2="361" y2="840"/><line x1="361" y1="867" x2="361" y2="891"/>
</g>
<g class="bl" stroke-width="1.1">
<path d="M291,490 L128,533 L128,594 L170,606"/><line x1="291" y1="536" x2="195" y2="556"/><line x1="291" y1="566" x2="188" y2="566"/><line x1="291" y1="594" x2="190" y2="610"/><line x1="291" y1="602" x2="190" y2="617"/><line x1="291" y1="611" x2="190" y2="624"/><line x1="291" y1="620" x2="190" y2="632"/><line x1="291" y1="628" x2="190" y2="640"/><line x1="291" y1="637" x2="248" y2="652"/><line x1="291" y1="645" x2="232" y2="672"/><line x1="291" y1="690" x2="232" y2="672"/><line x1="291" y1="725" x2="190" y2="650"/><line x1="291" y1="740" x2="190" y2="680"/><line x1="291" y1="760" x2="190" y2="700"/><line x1="291" y1="780" x2="190" y2="718"/><line x1="291" y1="800" x2="190" y2="728"/><line x1="291" y1="820" x2="190" y2="740"/><line x1="291" y1="840" x2="192" y2="756"/><line x1="291" y1="900" x2="192" y2="803"/>
<line x1="381" y1="493" x2="482" y2="640"/><line x1="361" y1="515" x2="470" y2="640"/><line x1="361" y1="562" x2="480" y2="652"/><line x1="361" y1="596" x2="482" y2="660"/><line x1="361" y1="606" x2="483" y2="670"/><line x1="361" y1="626" x2="430" y2="645"/><line x1="361" y1="640" x2="484" y2="680"/><line x1="381" y1="690" x2="452" y2="683"/><line x1="361" y1="727" x2="497" y2="701"/><line x1="361" y1="752" x2="479" y2="758"/><line x1="361" y1="761" x2="479" y2="768"/><line x1="361" y1="822" x2="479" y2="779"/><line x1="361" y1="839" x2="486" y2="849"/><line x1="361" y1="873" x2="483" y2="873"/><path d="M361,1003 L405,1033 L455,1030"/><line x1="361" y1="975" x2="410" y2="945"/>
</g>
<g stroke="#222" stroke-width="1.2" stroke-dasharray="5,4" fill="none"><path d="M361,540 L395,565 L403,700"/><path d="M198,790 L290,970"/><path d="M410,700 L410,820 L395,830"/><path d="M361,968 L450,900"/><path d="M361,990 L420,960"/></g>

<!-- gait text & foot -->
<g class="xs">
<text x="22" y="897" class="xs">Meridian acupuncture points for treatment of gait mechanism</text><text x="22" y="904" class="xs">as observed by manual muscle testing in Applied Kinesiology.</text><text x="22" y="912" class="xs">The large dots are the primary points where involvement is</text><text x="22" y="919" class="xs">usually found.</text><text x="22" y="927" class="xs">The smaller dots are the secondary areas to evaluate for</text><text x="22" y="934" class="xs">treatment.</text>
</g>
<path class="skin" d="M82,935 L158,935 C160,960 164,990 166,1010 C168,1030 160,1040 140,1040 L100,1040 C85,1040 78,1030 80,1010 C82,985 82,960 82,935 Z"/>
<g fill="#ece7dc" stroke="#6f6759" stroke-width="0.8"><ellipse cx="96" cy="1026" rx="10" ry="9"/><ellipse cx="116" cy="1026" rx="8" ry="9"/><ellipse cx="134" cy="1026" rx="7" ry="8"/><ellipse cx="149" cy="1022" rx="6" ry="7"/><ellipse cx="161" cy="1016" rx="5" ry="6"/></g>
<g fill="#222"><circle cx="110" cy="975" r="3"/><circle cx="126" cy="972" r="3"/><circle cx="148" cy="980" r="3"/><circle cx="108" cy="1003" r="3"/><circle cx="129" cy="1004" r="3"/><circle cx="158" cy="997" r="3"/><ellipse cx="83" cy="1003" rx="4" ry="6"/><ellipse cx="166" cy="970" rx="3.5" ry="5"/><ellipse cx="165" cy="992" rx="3.5" ry="5"/></g>
<circle cx="130" cy="993" r="3" fill="#fff" stroke="#222"/>
<g class="xs">
<text x="21" y="964" class="xs">Psoas major and</text><text x="21" y="971" class="xs">pectoralis major</text><text x="21" y="978" class="xs">(on plantar surface)</text>
<text x="98" y="973" class="xs">LV3</text><text x="117" y="966" class="xs">ST43</text><text x="154" y="962" class="xs">BL64</text><text x="132" y="977" class="xs">GB41</text><text x="124" y="989" class="xs">KI3</text><text x="141" y="998" class="xs">GB42</text><text x="168" y="999" class="xs">BL65</text><text x="68" y="1001" class="xs">SP1</text><text x="97" y="1004" class="xs">LV2</text><text x="117" y="1004" class="xs">ST44</text>
<text x="174" y="975" class="xs">Contralateral</text><text x="174" y="982" class="xs">shoulder and hip</text><text x="174" y="989" class="xs">adductors</text>
<text x="19" y="1020" class="xs">Contralateral</text><text x="19" y="1027" class="xs">shoulder and hip</text><text x="19" y="1034" class="xs">extensors</text>
<text x="173" y="1023" class="xs">Contralateral</text><text x="173" y="1030" class="xs">gluteus medius</text><text x="173" y="1037" class="xs">and abdominals</text>
<text x="31" y="1047" class="xs">Contralateral shoulder</text><text x="31" y="1054" class="xs">and hip flexors</text><text x="106" y="1051" class="xs">Contralateral shoulder</text><text x="106" y="1058" class="xs">and hip abductors</text>
</g>

<!-- ========== WATERMARK ========== -->
<text x="-89" y="523" transform="rotate(-24.2 776 513)" style="font-size:27px;fill:rgba(255,255,255,0.4);stroke:#e0474d;stroke-width:1.3px;font-family:'Liberation Sans',sans-serif">t www.BodyOfElements.com Copyright www.BodyOfElements.com Copyright www.BodyOfElements.com Copyright www.BodyOfElements.com</text>
</svg>
</body></html>
